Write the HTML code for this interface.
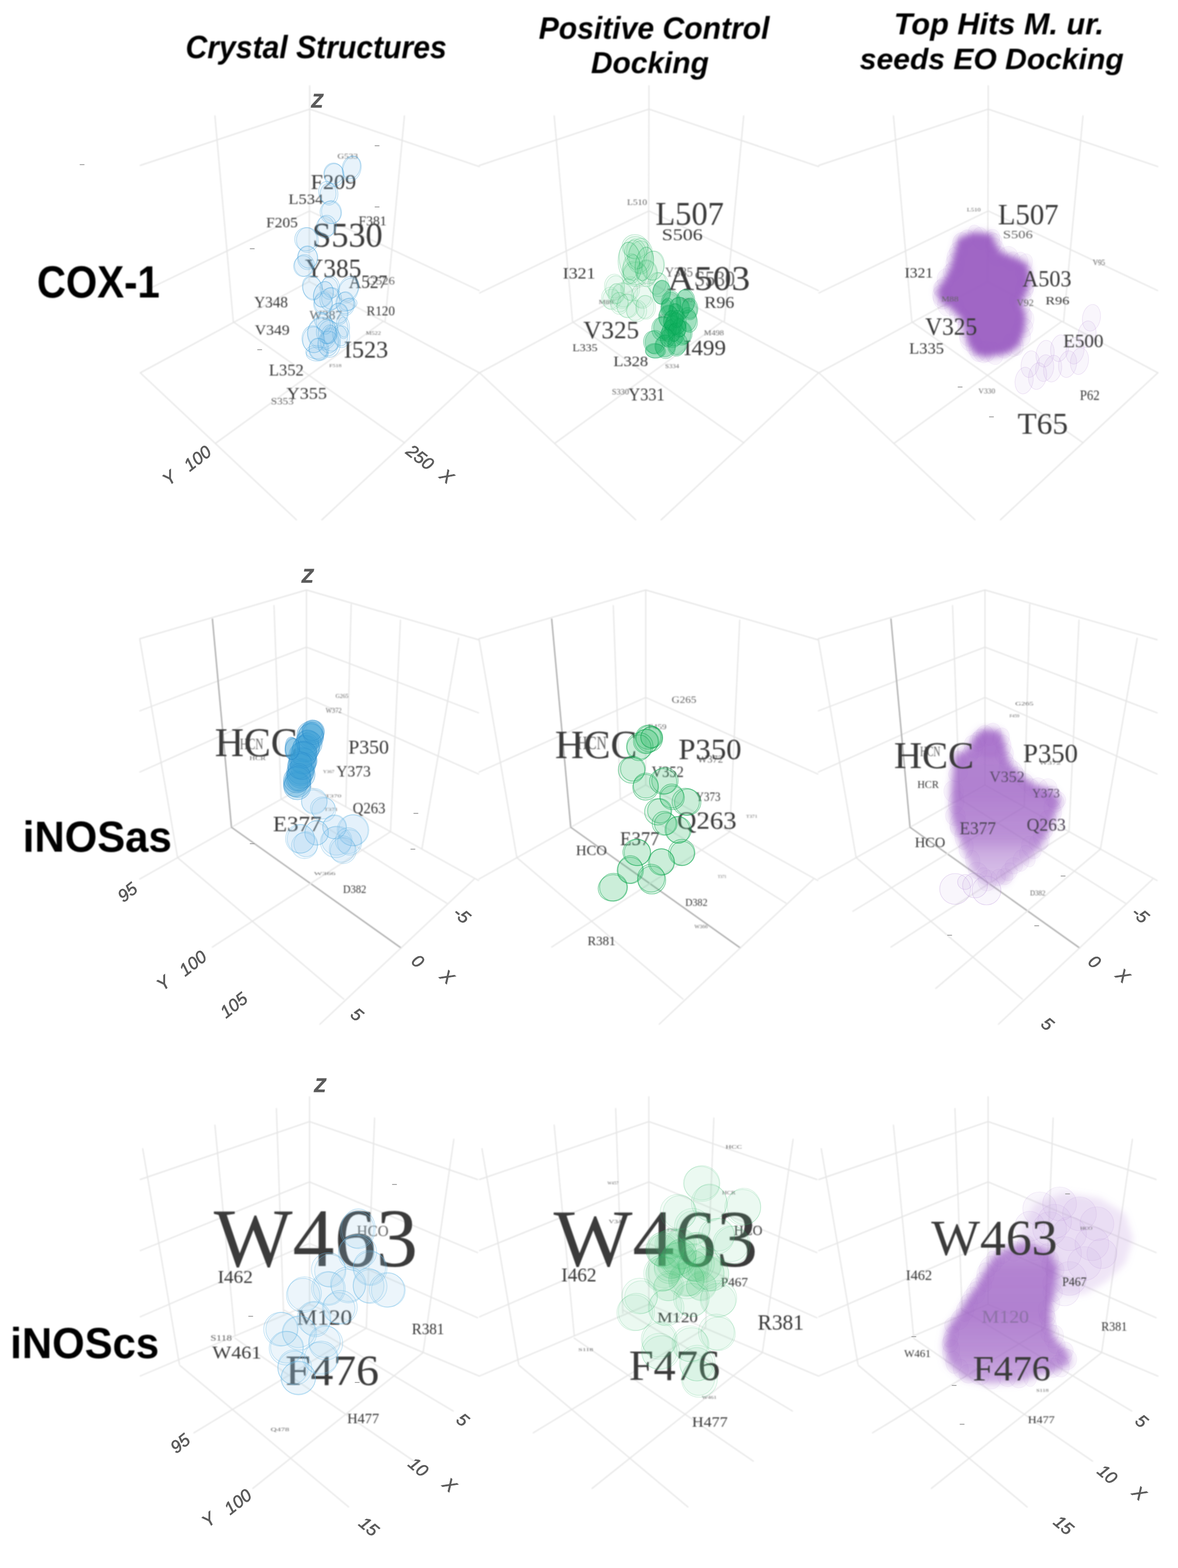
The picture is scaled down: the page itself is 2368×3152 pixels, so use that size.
<!DOCTYPE html><html><head><meta charset="utf-8"><title>Figure</title><style>html,body{margin:0;padding:0;background:#fff;width:2368px;height:3152px;overflow:hidden;}svg{display:block;}</style></head><body>
<svg width="2368" height="3152" viewBox="0 0 2368 3152">
<defs>
<filter id="soft" x="-20%" y="-20%" width="140%" height="140%"><feGaussianBlur stdDeviation="0.9"/></filter>
<filter id="pblur" x="-30%" y="-30%" width="160%" height="160%"><feGaussianBlur stdDeviation="7"/></filter>
</defs>
<rect width="2368" height="3152" fill="#ffffff"/>
<g stroke="#e6e6e6" stroke-width="2.4" stroke-linecap="round" fill="none" filter="url(#soft)">
<line x1="622.5" y1="172.5" x2="622.5" y2="219.4"/>
<line x1="622.5" y1="219.4" x2="282" y2="332.5"/>
<line x1="622.5" y1="219.4" x2="963.5" y2="334.8"/>
<line x1="622.5" y1="219.4" x2="621.5" y2="566"/>
<line x1="282" y1="589" x2="622.5" y2="424"/>
<line x1="622.5" y1="424" x2="963" y2="584"/>
<line x1="282" y1="749.4" x2="621.5" y2="566"/>
<line x1="621.5" y1="566" x2="963.5" y2="749.4"/>
<line x1="432" y1="233" x2="469" y2="647"/>
<line x1="813" y1="233" x2="774" y2="647"/>
<line x1="282" y1="749.4" x2="596" y2="1045"/>
<line x1="963.5" y1="749.4" x2="647" y2="1045"/>
<line x1="434.4" y1="890.3" x2="770.6" y2="645.9"/>
<line x1="813.3" y1="890.3" x2="469" y2="647"/>
<line x1="1304.5" y1="172.5" x2="1304.5" y2="219.4"/>
<line x1="1304.5" y1="219.4" x2="964" y2="332.5"/>
<line x1="1304.5" y1="219.4" x2="1645.5" y2="334.8"/>
<line x1="1304.5" y1="219.4" x2="1303.5" y2="566"/>
<line x1="964" y1="589" x2="1304.5" y2="424"/>
<line x1="1304.5" y1="424" x2="1645" y2="584"/>
<line x1="964" y1="749.4" x2="1303.5" y2="566"/>
<line x1="1303.5" y1="566" x2="1645.5" y2="749.4"/>
<line x1="1114" y1="233" x2="1151" y2="647"/>
<line x1="1495" y1="233" x2="1456" y2="647"/>
<line x1="964" y1="749.4" x2="1278" y2="1045"/>
<line x1="1645.5" y1="749.4" x2="1329" y2="1045"/>
<line x1="1116.4" y1="890.3" x2="1452.6" y2="645.9"/>
<line x1="1495.3" y1="890.3" x2="1151" y2="647"/>
<line x1="1986.5" y1="172.5" x2="1986.5" y2="219.4"/>
<line x1="1986.5" y1="219.4" x2="1646" y2="332.5"/>
<line x1="1986.5" y1="219.4" x2="2327.5" y2="334.8"/>
<line x1="1986.5" y1="219.4" x2="1985.5" y2="566"/>
<line x1="1646" y1="589" x2="1986.5" y2="424"/>
<line x1="1986.5" y1="424" x2="2327" y2="584"/>
<line x1="1646" y1="749.4" x2="1985.5" y2="566"/>
<line x1="1985.5" y1="566" x2="2327.5" y2="749.4"/>
<line x1="1796" y1="233" x2="1833" y2="647"/>
<line x1="2177" y1="233" x2="2138" y2="647"/>
<line x1="1646" y1="749.4" x2="1960" y2="1045"/>
<line x1="2327.5" y1="749.4" x2="2011" y2="1045"/>
<line x1="1798.4" y1="890.3" x2="2134.6" y2="645.9"/>
<line x1="2177.3" y1="890.3" x2="1833" y2="647"/>
<line x1="616" y1="1186" x2="281" y2="1284"/>
<line x1="616" y1="1186" x2="962" y2="1286"/>
<line x1="616" y1="1300.8" x2="281" y2="1429"/>
<line x1="616" y1="1402" x2="281" y2="1552"/>
<line x1="616" y1="1300.8" x2="962" y2="1433"/>
<line x1="616" y1="1402" x2="962" y2="1556"/>
<line x1="281" y1="1285" x2="357" y2="1724"/>
<line x1="427" y1="1244.5" x2="465.3" y2="1663" stroke="#aaaaaa" stroke-width="2.6"/>
<line x1="550.8" y1="1217.5" x2="565" y2="1606"/>
<line x1="616" y1="1186" x2="616" y2="1578"/>
<line x1="706" y1="1215.3" x2="695" y2="1622"/>
<line x1="805" y1="1246.8" x2="785" y2="1672"/>
<line x1="922" y1="1283" x2="848" y2="1707"/>
<line x1="616" y1="1578" x2="281" y2="1767"/>
<line x1="616" y1="1578" x2="962" y2="1770"/>
<line x1="565" y1="1606" x2="897.9" y2="1815.5"/>
<line x1="465.3" y1="1663" x2="806.3" y2="1905.6" stroke="#aaaaaa" stroke-width="2.6"/>
<line x1="357" y1="1724" x2="690.9" y2="2008.4"/>
<line x1="785" y1="1672" x2="427" y2="1903.8"/>
<line x1="952.8" y1="1767.6" x2="643" y2="2059"/>
<line x1="1298" y1="1186" x2="963" y2="1284"/>
<line x1="1298" y1="1186" x2="1644" y2="1286"/>
<line x1="1298" y1="1402" x2="963" y2="1552"/>
<line x1="1298" y1="1402" x2="1644" y2="1556"/>
<line x1="963" y1="1285" x2="1039" y2="1724"/>
<line x1="1109" y1="1244.5" x2="1147.3" y2="1663" stroke="#aaaaaa" stroke-width="2.6"/>
<line x1="1232.8" y1="1217.5" x2="1247" y2="1606"/>
<line x1="1298" y1="1186" x2="1298" y2="1578"/>
<line x1="1487" y1="1246.8" x2="1467" y2="1672"/>
<line x1="1298" y1="1578" x2="963" y2="1767"/>
<line x1="1298" y1="1578" x2="1644" y2="1770"/>
<line x1="1247" y1="1606" x2="1579.9" y2="1815.5"/>
<line x1="1147.3" y1="1663" x2="1488.3" y2="1905.6" stroke="#aaaaaa" stroke-width="2.6"/>
<line x1="1039" y1="1724" x2="1372.9" y2="2008.4"/>
<line x1="1467" y1="1672" x2="1109" y2="1903.8"/>
<line x1="1634.8" y1="1767.6" x2="1325" y2="2059"/>
<line x1="1980" y1="1186" x2="1645" y2="1284"/>
<line x1="1980" y1="1186" x2="2326" y2="1286"/>
<line x1="1980" y1="1300.8" x2="1645" y2="1429"/>
<line x1="1980" y1="1402" x2="1645" y2="1552"/>
<line x1="1980" y1="1300.8" x2="2326" y2="1433"/>
<line x1="1980" y1="1402" x2="2326" y2="1556"/>
<line x1="1645" y1="1285" x2="1721" y2="1724"/>
<line x1="1791" y1="1244.5" x2="1829.3" y2="1663" stroke="#aaaaaa" stroke-width="2.6"/>
<line x1="1914.8" y1="1217.5" x2="1929" y2="1606"/>
<line x1="1980" y1="1186" x2="1980" y2="1578"/>
<line x1="2070" y1="1215.3" x2="2059" y2="1622"/>
<line x1="2169" y1="1246.8" x2="2149" y2="1672"/>
<line x1="2286" y1="1283" x2="2212" y2="1707"/>
<line x1="1980" y1="1578" x2="1645" y2="1767"/>
<line x1="1980" y1="1578" x2="2326" y2="1770"/>
<line x1="1929" y1="1606" x2="2261.9" y2="1815.5"/>
<line x1="1829.3" y1="1663" x2="2170.3" y2="1905.6" stroke="#aaaaaa" stroke-width="2.6"/>
<line x1="1721" y1="1724" x2="2054.9" y2="2008.4"/>
<line x1="2059" y1="1622" x2="1714.5" y2="1831.8"/>
<line x1="2149" y1="1672" x2="1791" y2="1903.8"/>
<line x1="2212" y1="1707" x2="1881" y2="1987"/>
<line x1="2316.8" y1="1767.6" x2="2007" y2="2059"/>
<line x1="622.2" y1="2204.6" x2="622.2" y2="2254.6"/>
<line x1="622.2" y1="2254.6" x2="282" y2="2371"/>
<line x1="622.2" y1="2254.6" x2="960" y2="2371"/>
<line x1="622.2" y1="2375.8" x2="282" y2="2514"/>
<line x1="622.2" y1="2375.8" x2="960" y2="2518"/>
<line x1="622.2" y1="2499.5" x2="282" y2="2647"/>
<line x1="622.2" y1="2499.5" x2="960" y2="2649"/>
<line x1="622.2" y1="2622" x2="282" y2="2766"/>
<line x1="622.2" y1="2622" x2="963.7" y2="2766.4"/>
<line x1="286.9" y1="2309.3" x2="360.6" y2="2742"/>
<line x1="432" y1="2261.7" x2="472.4" y2="2685"/>
<line x1="555.6" y1="2228.4" x2="570" y2="2640"/>
<line x1="622.2" y1="2254.6" x2="622.2" y2="2622"/>
<line x1="753" y1="2247.4" x2="736.3" y2="2670"/>
<line x1="912.3" y1="2290.2" x2="850.5" y2="2719"/>
<line x1="361.4" y1="2744.5" x2="700.9" y2="3029.3"/>
<line x1="472.4" y1="2690" x2="832.3" y2="2937.3"/>
<line x1="570" y1="2633" x2="911" y2="2836.5"/>
<line x1="389.9" y1="2880.3" x2="736.3" y2="2670"/>
<line x1="508.2" y1="2992" x2="850.5" y2="2719"/>
<line x1="1304.2" y1="2204.6" x2="1304.2" y2="2254.6"/>
<line x1="1304.2" y1="2254.6" x2="964" y2="2371"/>
<line x1="1304.2" y1="2254.6" x2="1642" y2="2371"/>
<line x1="1304.2" y1="2375.8" x2="964" y2="2514"/>
<line x1="1304.2" y1="2375.8" x2="1642" y2="2518"/>
<line x1="1304.2" y1="2499.5" x2="964" y2="2647"/>
<line x1="1304.2" y1="2499.5" x2="1642" y2="2649"/>
<line x1="1304.2" y1="2622" x2="964" y2="2766"/>
<line x1="1304.2" y1="2622" x2="1645.7" y2="2766.4"/>
<line x1="968.9" y1="2309.3" x2="1042.6" y2="2742"/>
<line x1="1114" y1="2261.7" x2="1154.4" y2="2685"/>
<line x1="1237.6" y1="2228.4" x2="1252" y2="2640"/>
<line x1="1304.2" y1="2254.6" x2="1304.2" y2="2622"/>
<line x1="1435" y1="2247.4" x2="1418.3" y2="2670"/>
<line x1="1594.3" y1="2290.2" x2="1532.5" y2="2719"/>
<line x1="1043.4" y1="2744.5" x2="1382.9" y2="3029.3"/>
<line x1="1154.4" y1="2690" x2="1514.3" y2="2937.3"/>
<line x1="1252" y1="2633" x2="1593" y2="2836.5"/>
<line x1="1071.9" y1="2880.3" x2="1418.3" y2="2670"/>
<line x1="1190.2" y1="2992" x2="1532.5" y2="2719"/>
<line x1="1986.2" y1="2204.6" x2="1986.2" y2="2254.6"/>
<line x1="1986.2" y1="2254.6" x2="1646" y2="2371"/>
<line x1="1986.2" y1="2254.6" x2="2324" y2="2371"/>
<line x1="1986.2" y1="2375.8" x2="1646" y2="2514"/>
<line x1="1986.2" y1="2375.8" x2="2324" y2="2518"/>
<line x1="1986.2" y1="2499.5" x2="1646" y2="2647"/>
<line x1="1986.2" y1="2499.5" x2="2324" y2="2649"/>
<line x1="1986.2" y1="2622" x2="1646" y2="2766"/>
<line x1="1986.2" y1="2622" x2="2327.7" y2="2766.4"/>
<line x1="1650.9" y1="2309.3" x2="1724.6" y2="2742"/>
<line x1="1796" y1="2261.7" x2="1836.4" y2="2685"/>
<line x1="1919.6" y1="2228.4" x2="1934" y2="2640"/>
<line x1="1986.2" y1="2254.6" x2="1986.2" y2="2622"/>
<line x1="2117" y1="2247.4" x2="2100.3" y2="2670"/>
<line x1="2276.3" y1="2290.2" x2="2214.5" y2="2719"/>
<line x1="1725.4" y1="2744.5" x2="2064.9" y2="3029.3"/>
<line x1="1836.4" y1="2690" x2="2196.3" y2="2937.3"/>
<line x1="1934" y1="2633" x2="2275" y2="2836.5"/>
<line x1="1753.9" y1="2880.3" x2="2100.3" y2="2670"/>
<line x1="1872.2" y1="2992" x2="2214.5" y2="2719"/>
</g>
<text x="637.5" y="202.6" font-size="38" text-anchor="middle" dominant-baseline="central" style="font-family:'Liberation Sans', Arial, sans-serif;font-style:italic;font-weight:bold;" fill="#5a5a5a" stroke="#5a5a5a" stroke-width="0.9">Z</text>
<text x="340.3" y="960.4" font-size="35" text-anchor="middle" dominant-baseline="central" style="font-family:'Liberation Sans', Arial, sans-serif;font-style:italic;" fill="#5a5a5a" stroke="#5a5a5a" stroke-width="0.9" transform="rotate(-40 340.3 960.4)">Y</text>
<text x="396.7" y="921" font-size="35" text-anchor="middle" dominant-baseline="central" style="font-family:'Liberation Sans', Arial, sans-serif;font-style:italic;" fill="#5a5a5a" stroke="#5a5a5a" stroke-width="0.9" transform="rotate(-38 396.7 921)">100</text>
<text x="844.8" y="918.9" font-size="35" text-anchor="middle" dominant-baseline="central" style="font-family:'Liberation Sans', Arial, sans-serif;font-style:italic;" fill="#5a5a5a" stroke="#5a5a5a" stroke-width="0.9" transform="rotate(38 844.8 918.9)">250</text>
<text x="898.5" y="957.2" font-size="35" text-anchor="middle" dominant-baseline="central" style="font-family:'Liberation Sans', Arial, sans-serif;font-style:italic;" fill="#5a5a5a" stroke="#5a5a5a" stroke-width="0.9" transform="rotate(38 898.5 957.2)">X</text>
<text x="618.3" y="1158.4" font-size="38" text-anchor="middle" dominant-baseline="central" style="font-family:'Liberation Sans', Arial, sans-serif;font-style:italic;font-weight:bold;" fill="#5a5a5a" stroke="#5a5a5a" stroke-width="0.9">Z</text>
<text x="255.9" y="1793.1" font-size="35" text-anchor="middle" dominant-baseline="central" style="font-family:'Liberation Sans', Arial, sans-serif;font-style:italic;" fill="#5a5a5a" stroke="#5a5a5a" stroke-width="0.9" transform="rotate(-38 255.9 1793.1)">95</text>
<text x="328.4" y="1976" font-size="35" text-anchor="middle" dominant-baseline="central" style="font-family:'Liberation Sans', Arial, sans-serif;font-style:italic;" fill="#5a5a5a" stroke="#5a5a5a" stroke-width="0.9" transform="rotate(-40 328.4 1976)">Y</text>
<text x="387.4" y="1936" font-size="35" text-anchor="middle" dominant-baseline="central" style="font-family:'Liberation Sans', Arial, sans-serif;font-style:italic;" fill="#5a5a5a" stroke="#5a5a5a" stroke-width="0.9" transform="rotate(-38 387.4 1936)">100</text>
<text x="469.6" y="2020.2" font-size="35" text-anchor="middle" dominant-baseline="central" style="font-family:'Liberation Sans', Arial, sans-serif;font-style:italic;" fill="#5a5a5a" stroke="#5a5a5a" stroke-width="0.9" transform="rotate(-38 469.6 2020.2)">105</text>
<text x="928.7" y="1839" font-size="35" text-anchor="middle" dominant-baseline="central" style="font-family:'Liberation Sans', Arial, sans-serif;font-style:italic;" fill="#5a5a5a" stroke="#5a5a5a" stroke-width="0.9" transform="rotate(40 928.7 1839)">-5</text>
<text x="840.2" y="1931.7" font-size="35" text-anchor="middle" dominant-baseline="central" style="font-family:'Liberation Sans', Arial, sans-serif;font-style:italic;" fill="#5a5a5a" stroke="#5a5a5a" stroke-width="0.9" transform="rotate(40 840.2 1931.7)">0</text>
<text x="899.2" y="1963.3" font-size="35" text-anchor="middle" dominant-baseline="central" style="font-family:'Liberation Sans', Arial, sans-serif;font-style:italic;" fill="#5a5a5a" stroke="#5a5a5a" stroke-width="0.9" transform="rotate(40 899.2 1963.3)">X</text>
<text x="718" y="2039" font-size="35" text-anchor="middle" dominant-baseline="central" style="font-family:'Liberation Sans', Arial, sans-serif;font-style:italic;" fill="#5a5a5a" stroke="#5a5a5a" stroke-width="0.9" transform="rotate(40 718 2039)">5</text>
<text x="2292.8" y="1838.5" font-size="35" text-anchor="middle" dominant-baseline="central" style="font-family:'Liberation Sans', Arial, sans-serif;font-style:italic;" fill="#5a5a5a" stroke="#5a5a5a" stroke-width="0.9" transform="rotate(40 2292.8 1838.5)">-5</text>
<text x="2200.5" y="1933" font-size="35" text-anchor="middle" dominant-baseline="central" style="font-family:'Liberation Sans', Arial, sans-serif;font-style:italic;" fill="#5a5a5a" stroke="#5a5a5a" stroke-width="0.9" transform="rotate(40 2200.5 1933)">0</text>
<text x="2257.5" y="1961" font-size="35" text-anchor="middle" dominant-baseline="central" style="font-family:'Liberation Sans', Arial, sans-serif;font-style:italic;" fill="#5a5a5a" stroke="#5a5a5a" stroke-width="0.9" transform="rotate(40 2257.5 1961)">X</text>
<text x="2106" y="2058" font-size="35" text-anchor="middle" dominant-baseline="central" style="font-family:'Liberation Sans', Arial, sans-serif;font-style:italic;" fill="#5a5a5a" stroke="#5a5a5a" stroke-width="0.9" transform="rotate(40 2106 2058)">5</text>
<text x="643.4" y="2181.8" font-size="38" text-anchor="middle" dominant-baseline="central" style="font-family:'Liberation Sans', Arial, sans-serif;font-style:italic;font-weight:bold;" fill="#5a5a5a" stroke="#5a5a5a" stroke-width="0.9">Z</text>
<text x="361.9" y="2901.2" font-size="35" text-anchor="middle" dominant-baseline="central" style="font-family:'Liberation Sans', Arial, sans-serif;font-style:italic;" fill="#5a5a5a" stroke="#5a5a5a" stroke-width="0.9" transform="rotate(-38 361.9 2901.2)">95</text>
<text x="419.2" y="3054.6" font-size="35" text-anchor="middle" dominant-baseline="central" style="font-family:'Liberation Sans', Arial, sans-serif;font-style:italic;" fill="#5a5a5a" stroke="#5a5a5a" stroke-width="0.9" transform="rotate(-40 419.2 3054.6)">Y</text>
<text x="477.9" y="3018.5" font-size="35" text-anchor="middle" dominant-baseline="central" style="font-family:'Liberation Sans', Arial, sans-serif;font-style:italic;" fill="#5a5a5a" stroke="#5a5a5a" stroke-width="0.9" transform="rotate(-38 477.9 3018.5)">100</text>
<text x="741.9" y="3068.1" font-size="35" text-anchor="middle" dominant-baseline="central" style="font-family:'Liberation Sans', Arial, sans-serif;font-style:italic;" fill="#5a5a5a" stroke="#5a5a5a" stroke-width="0.9" transform="rotate(40 741.9 3068.1)">15</text>
<text x="841.2" y="2948.6" font-size="35" text-anchor="middle" dominant-baseline="central" style="font-family:'Liberation Sans', Arial, sans-serif;font-style:italic;" fill="#5a5a5a" stroke="#5a5a5a" stroke-width="0.9" transform="rotate(40 841.2 2948.6)">10</text>
<text x="904.3" y="2984.7" font-size="35" text-anchor="middle" dominant-baseline="central" style="font-family:'Liberation Sans', Arial, sans-serif;font-style:italic;" fill="#5a5a5a" stroke="#5a5a5a" stroke-width="0.9" transform="rotate(40 904.3 2984.7)">X</text>
<text x="930.5" y="2853.8" font-size="35" text-anchor="middle" dominant-baseline="central" style="font-family:'Liberation Sans', Arial, sans-serif;font-style:italic;" fill="#5a5a5a" stroke="#5a5a5a" stroke-width="0.9" transform="rotate(40 930.5 2853.8)">5</text>
<text x="2295.3" y="2856.2" font-size="35" text-anchor="middle" dominant-baseline="central" style="font-family:'Liberation Sans', Arial, sans-serif;font-style:italic;" fill="#5a5a5a" stroke="#5a5a5a" stroke-width="0.9" transform="rotate(40 2295.3 2856.2)">5</text>
<text x="2226.4" y="2963.2" font-size="35" text-anchor="middle" dominant-baseline="central" style="font-family:'Liberation Sans', Arial, sans-serif;font-style:italic;" fill="#5a5a5a" stroke="#5a5a5a" stroke-width="0.9" transform="rotate(40 2226.4 2963.2)">10</text>
<text x="2290.6" y="3001.2" font-size="35" text-anchor="middle" dominant-baseline="central" style="font-family:'Liberation Sans', Arial, sans-serif;font-style:italic;" fill="#5a5a5a" stroke="#5a5a5a" stroke-width="0.9" transform="rotate(40 2290.6 3001.2)">X</text>
<text x="2138.4" y="3065.4" font-size="35" text-anchor="middle" dominant-baseline="central" style="font-family:'Liberation Sans', Arial, sans-serif;font-style:italic;" fill="#5a5a5a" stroke="#5a5a5a" stroke-width="0.9" transform="rotate(40 2138.4 3065.4)">15</text>
<g filter="url(#soft)">
<text x="678.2" y="319" font-size="15.1" textLength="41.5" lengthAdjust="spacingAndGlyphs" style="font-family:'Liberation Serif', 'Times New Roman', serif;" fill="#666">G533</text>
<text x="624.6" y="380.3" font-size="42.3" textLength="91.5" lengthAdjust="spacingAndGlyphs" style="font-family:'Liberation Serif', 'Times New Roman', serif;" fill="#3a3a3a">F209</text>
<text x="579.8" y="410.1" font-size="28.5" textLength="70.1" lengthAdjust="spacingAndGlyphs" style="font-family:'Liberation Serif', 'Times New Roman', serif;" fill="#3a3a3a">L534</text>
<text x="535.1" y="457" font-size="30.2" textLength="63.6" lengthAdjust="spacingAndGlyphs" style="font-family:'Liberation Serif', 'Times New Roman', serif;" fill="#3a3a3a">F205</text>
<text x="720.8" y="452.5" font-size="27.2" textLength="56.5" lengthAdjust="spacingAndGlyphs" style="font-family:'Liberation Serif', 'Times New Roman', serif;" fill="#3a3a3a">F381</text>
<text x="627.6" y="495.8" font-size="69.5" textLength="141.7" lengthAdjust="spacingAndGlyphs" style="font-family:'Liberation Serif', 'Times New Roman', serif;" fill="#3a3a3a">S530</text>
<text x="613.1" y="556.6" font-size="52.7" textLength="113.3" lengthAdjust="spacingAndGlyphs" style="font-family:'Liberation Serif', 'Times New Roman', serif;" fill="#3a3a3a">Y385</text>
<text x="737" y="572" font-size="22.7" textLength="56.8" lengthAdjust="spacingAndGlyphs" style="font-family:'Liberation Serif', 'Times New Roman', serif;" fill="#666">G526</text>
<text x="701.2" y="579.4" font-size="38.4" textLength="77.1" lengthAdjust="spacingAndGlyphs" style="font-family:'Liberation Serif', 'Times New Roman', serif;" fill="#3a3a3a">A527</text>
<text x="511.1" y="618" font-size="31" textLength="67.7" lengthAdjust="spacingAndGlyphs" style="font-family:'Liberation Serif', 'Times New Roman', serif;" fill="#3a3a3a">Y348</text>
<text x="736.8" y="633.6" font-size="27.3" textLength="57.2" lengthAdjust="spacingAndGlyphs" style="font-family:'Liberation Serif', 'Times New Roman', serif;" fill="#3a3a3a">R120</text>
<text x="622" y="642" font-size="24.2" textLength="65.8" lengthAdjust="spacingAndGlyphs" style="font-family:'Liberation Serif', 'Times New Roman', serif;" fill="#666">W387</text>
<text x="512.2" y="673.3" font-size="29.2" textLength="70" lengthAdjust="spacingAndGlyphs" style="font-family:'Liberation Serif', 'Times New Roman', serif;" fill="#3a3a3a">V349</text>
<text x="735.6" y="673" font-size="10.6" textLength="30.1" lengthAdjust="spacingAndGlyphs" style="font-family:'Liberation Serif', 'Times New Roman', serif;" fill="#666">M522</text>
<text x="691.2" y="719" font-size="49.1" textLength="89.2" lengthAdjust="spacingAndGlyphs" style="font-family:'Liberation Serif', 'Times New Roman', serif;" fill="#3a3a3a">I523</text>
<text x="540.5" y="755" font-size="34.7" textLength="70.1" lengthAdjust="spacingAndGlyphs" style="font-family:'Liberation Serif', 'Times New Roman', serif;" fill="#3a3a3a">L352</text>
<text x="661.7" y="738" font-size="7.6" textLength="24.8" lengthAdjust="spacingAndGlyphs" style="font-family:'Liberation Serif', 'Times New Roman', serif;" fill="#666">F518</text>
<text x="576" y="802" font-size="34.7" textLength="81.2" lengthAdjust="spacingAndGlyphs" style="font-family:'Liberation Serif', 'Times New Roman', serif;" fill="#3a3a3a">Y355</text>
<text x="544.5" y="813" font-size="18.1" textLength="46" lengthAdjust="spacingAndGlyphs" style="font-family:'Liberation Serif', 'Times New Roman', serif;" fill="#666">S353</text>
<text x="1260.5" y="412" font-size="16.6" textLength="40.3" lengthAdjust="spacingAndGlyphs" style="font-family:'Liberation Serif', 'Times New Roman', serif;" fill="#666">L510</text>
<text x="1317.4" y="452.4" font-size="66.8" textLength="137.9" lengthAdjust="spacingAndGlyphs" style="font-family:'Liberation Serif', 'Times New Roman', serif;" fill="#3a3a3a">L507</text>
<text x="1330.2" y="482.7" font-size="32.8" textLength="82.4" lengthAdjust="spacingAndGlyphs" style="font-family:'Liberation Serif', 'Times New Roman', serif;" fill="#3a3a3a">S506</text>
<text x="1131.2" y="559.9" font-size="30.8" textLength="65.8" lengthAdjust="spacingAndGlyphs" style="font-family:'Liberation Serif', 'Times New Roman', serif;" fill="#3a3a3a">I321</text>
<text x="1336.7" y="556" font-size="27.2" textLength="56.3" lengthAdjust="spacingAndGlyphs" style="font-family:'Liberation Serif', 'Times New Roman', serif;" fill="#666">Y385</text>
<text x="1395.3" y="575" font-size="43.8" textLength="82.2" lengthAdjust="spacingAndGlyphs" style="font-family:'Liberation Serif', 'Times New Roman', serif;" fill="#666">S530</text>
<text x="1341.6" y="582.9" font-size="69.6" textLength="166.2" lengthAdjust="spacingAndGlyphs" style="font-family:'Liberation Serif', 'Times New Roman', serif;" fill="#3a3a3a">A503</text>
<text x="1415.8" y="619.4" font-size="34.7" textLength="60.3" lengthAdjust="spacingAndGlyphs" style="font-family:'Liberation Serif', 'Times New Roman', serif;" fill="#3a3a3a">R96</text>
<text x="1370.7" y="607" font-size="12.1" textLength="22.5" lengthAdjust="spacingAndGlyphs" style="font-family:'Liberation Serif', 'Times New Roman', serif;" fill="#666">V92</text>
<text x="1203.5" y="611" font-size="12.1" textLength="29.8" lengthAdjust="spacingAndGlyphs" style="font-family:'Liberation Serif', 'Times New Roman', serif;" fill="#666">M89</text>
<text x="1324.8" y="640" font-size="12.7" textLength="19.1" lengthAdjust="spacingAndGlyphs" style="font-family:'Liberation Serif', 'Times New Roman', serif;" fill="#666">W387</text>
<text x="1172.5" y="680.4" font-size="51.2" textLength="112.2" lengthAdjust="spacingAndGlyphs" style="font-family:'Liberation Serif', 'Times New Roman', serif;" fill="#3a3a3a">V325</text>
<text x="1415" y="673.6" font-size="14.5" textLength="40.3" lengthAdjust="spacingAndGlyphs" style="font-family:'Liberation Serif', 'Times New Roman', serif;" fill="#666">M498</text>
<text x="1150.7" y="706" font-size="20.4" textLength="50.4" lengthAdjust="spacingAndGlyphs" style="font-family:'Liberation Serif', 'Times New Roman', serif;" fill="#3a3a3a">L335</text>
<text x="1374.5" y="714.2" font-size="45" textLength="84.8" lengthAdjust="spacingAndGlyphs" style="font-family:'Liberation Serif', 'Times New Roman', serif;" fill="#3a3a3a">I499</text>
<text x="1233" y="735.9" font-size="28.5" textLength="69.9" lengthAdjust="spacingAndGlyphs" style="font-family:'Liberation Serif', 'Times New Roman', serif;" fill="#3a3a3a">L328</text>
<text x="1337.1" y="740" font-size="12.1" textLength="28.1" lengthAdjust="spacingAndGlyphs" style="font-family:'Liberation Serif', 'Times New Roman', serif;" fill="#666">S334</text>
<text x="1229.9" y="793" font-size="16.6" textLength="34.5" lengthAdjust="spacingAndGlyphs" style="font-family:'Liberation Serif', 'Times New Roman', serif;" fill="#666">S330</text>
<text x="1263.3" y="804.8" font-size="35" textLength="72.8" lengthAdjust="spacingAndGlyphs" style="font-family:'Liberation Serif', 'Times New Roman', serif;" fill="#3a3a3a">Y331</text>
<text x="674.5" y="1403" font-size="12.1" textLength="25.9" lengthAdjust="spacingAndGlyphs" style="font-family:'Liberation Serif', 'Times New Roman', serif;" fill="#666">G265</text>
<text x="654.8" y="1433" font-size="13.6" textLength="31.9" lengthAdjust="spacingAndGlyphs" style="font-family:'Liberation Serif', 'Times New Roman', serif;" fill="#666">W372</text>
<text x="482.3" y="1506.4" font-size="30.8" textLength="47.2" lengthAdjust="spacingAndGlyphs" style="font-family:'Liberation Serif', 'Times New Roman', serif;" fill="#666">HCN</text>
<text x="431.8" y="1519.9" font-size="81.7" textLength="166.6" lengthAdjust="spacingAndGlyphs" style="font-family:'Liberation Serif', 'Times New Roman', serif;" fill="#3a3a3a">HCC</text>
<text x="501.3" y="1528" font-size="12.1" textLength="33" lengthAdjust="spacingAndGlyphs" style="font-family:'Liberation Serif', 'Times New Roman', serif;" fill="#666">HCR</text>
<text x="700.2" y="1515.4" font-size="40.8" textLength="81.6" lengthAdjust="spacingAndGlyphs" style="font-family:'Liberation Serif', 'Times New Roman', serif;" fill="#3a3a3a">P350</text>
<text x="649.3" y="1554" font-size="9.1" textLength="23" lengthAdjust="spacingAndGlyphs" style="font-family:'Liberation Serif', 'Times New Roman', serif;" fill="#666">Y367</text>
<text x="676" y="1560.6" font-size="30.7" textLength="69.3" lengthAdjust="spacingAndGlyphs" style="font-family:'Liberation Serif', 'Times New Roman', serif;" fill="#3a3a3a">Y373</text>
<text x="653.7" y="1603" font-size="9.1" textLength="32.4" lengthAdjust="spacingAndGlyphs" style="font-family:'Liberation Serif', 'Times New Roman', serif;" fill="#666">T370</text>
<text x="651.4" y="1630" font-size="9.1" textLength="28.1" lengthAdjust="spacingAndGlyphs" style="font-family:'Liberation Serif', 'Times New Roman', serif;" fill="#666">T371</text>
<text x="709.1" y="1635" font-size="30.7" textLength="65.6" lengthAdjust="spacingAndGlyphs" style="font-family:'Liberation Serif', 'Times New Roman', serif;" fill="#3a3a3a">Q263</text>
<text x="548.8" y="1671.1" font-size="44.3" textLength="97.5" lengthAdjust="spacingAndGlyphs" style="font-family:'Liberation Serif', 'Times New Roman', serif;" fill="#3a3a3a">E377</text>
<text x="631" y="1759" font-size="7.6" textLength="43.5" lengthAdjust="spacingAndGlyphs" style="font-family:'Liberation Serif', 'Times New Roman', serif;" fill="#666">W366</text>
<text x="689.4" y="1795.2" font-size="23.9" textLength="46.9" lengthAdjust="spacingAndGlyphs" style="font-family:'Liberation Serif', 'Times New Roman', serif;" fill="#3a3a3a">D382</text>
<text x="1350.1" y="1412.9" font-size="18" textLength="49.8" lengthAdjust="spacingAndGlyphs" style="font-family:'Liberation Serif', 'Times New Roman', serif;" fill="#666">G265</text>
<text x="1302.5" y="1466" font-size="13.6" textLength="37.3" lengthAdjust="spacingAndGlyphs" style="font-family:'Liberation Serif', 'Times New Roman', serif;" fill="#666">F459</text>
<text x="1160.2" y="1506.2" font-size="38.1" textLength="59.3" lengthAdjust="spacingAndGlyphs" style="font-family:'Liberation Serif', 'Times New Roman', serif;" fill="#666">HCN</text>
<text x="1115.4" y="1523.6" font-size="80.1" textLength="165.7" lengthAdjust="spacingAndGlyphs" style="font-family:'Liberation Serif', 'Times New Roman', serif;" fill="#3a3a3a">HCC</text>
<text x="1401.7" y="1533.2" font-size="21.5" textLength="51.8" lengthAdjust="spacingAndGlyphs" style="font-family:'Liberation Serif', 'Times New Roman', serif;" fill="#666">W372</text>
<text x="1363.8" y="1526" font-size="58.2" textLength="126.9" lengthAdjust="spacingAndGlyphs" style="font-family:'Liberation Serif', 'Times New Roman', serif;" fill="#3a3a3a">P350</text>
<text x="1310" y="1562" font-size="32.6" textLength="64.4" lengthAdjust="spacingAndGlyphs" style="font-family:'Liberation Serif', 'Times New Roman', serif;" fill="#3a3a3a">V352</text>
<text x="1399.1" y="1610.2" font-size="25.4" textLength="49.2" lengthAdjust="spacingAndGlyphs" style="font-family:'Liberation Serif', 'Times New Roman', serif;" fill="#3a3a3a">Y373</text>
<text x="1361" y="1665.6" font-size="50.9" textLength="119.8" lengthAdjust="spacingAndGlyphs" style="font-family:'Liberation Serif', 'Times New Roman', serif;" fill="#3a3a3a">Q263</text>
<text x="1246.6" y="1699.3" font-size="40" textLength="79.2" lengthAdjust="spacingAndGlyphs" style="font-family:'Liberation Serif', 'Times New Roman', serif;" fill="#3a3a3a">E377</text>
<text x="1157.8" y="1718.5" font-size="29" textLength="62.3" lengthAdjust="spacingAndGlyphs" style="font-family:'Liberation Serif', 'Times New Roman', serif;" fill="#3a3a3a">HCO</text>
<text x="1499.8" y="1644" font-size="7.6" textLength="22.8" lengthAdjust="spacingAndGlyphs" style="font-family:'Liberation Serif', 'Times New Roman', serif;" fill="#666">T371</text>
<text x="1442.8" y="1765" font-size="9.1" textLength="17.4" lengthAdjust="spacingAndGlyphs" style="font-family:'Liberation Serif', 'Times New Roman', serif;" fill="#666">T371</text>
<text x="1377.4" y="1821.4" font-size="21.8" textLength="44.9" lengthAdjust="spacingAndGlyphs" style="font-family:'Liberation Serif', 'Times New Roman', serif;" fill="#3a3a3a">D382</text>
<text x="1396" y="1866" font-size="10.6" textLength="26.7" lengthAdjust="spacingAndGlyphs" style="font-family:'Liberation Serif', 'Times New Roman', serif;" fill="#666">W366</text>
<text x="1180.9" y="1899.6" font-size="25.4" textLength="56.5" lengthAdjust="spacingAndGlyphs" style="font-family:'Liberation Serif', 'Times New Roman', serif;" fill="#3a3a3a">R381</text>
<text x="429.8" y="2545" font-size="167.7" textLength="410.2" lengthAdjust="spacingAndGlyphs" style="font-family:'Liberation Serif', 'Times New Roman', serif;" fill="#3a3a3a">W463</text>
<text x="717.1" y="2485" font-size="31.7" textLength="64.1" lengthAdjust="spacingAndGlyphs" style="font-family:'Liberation Serif', 'Times New Roman', serif;" fill="#666">HCO</text>
<text x="437.4" y="2579" font-size="36.4" textLength="70.9" lengthAdjust="spacingAndGlyphs" style="font-family:'Liberation Serif', 'Times New Roman', serif;" fill="#3a3a3a">I462</text>
<text x="596.4" y="2663.2" font-size="43.7" textLength="111.4" lengthAdjust="spacingAndGlyphs" style="font-family:'Liberation Serif', 'Times New Roman', serif;" fill="#3a3a3a">M120</text>
<text x="827.8" y="2682.4" font-size="32.6" textLength="65.3" lengthAdjust="spacingAndGlyphs" style="font-family:'Liberation Serif', 'Times New Roman', serif;" fill="#3a3a3a">R381</text>
<text x="423" y="2694.5" font-size="17.4" textLength="43.1" lengthAdjust="spacingAndGlyphs" style="font-family:'Liberation Serif', 'Times New Roman', serif;" fill="#666">S118</text>
<text x="426.8" y="2730.6" font-size="36.4" textLength="98.7" lengthAdjust="spacingAndGlyphs" style="font-family:'Liberation Serif', 'Times New Roman', serif;" fill="#3a3a3a">W461</text>
<text x="573.4" y="2783.5" font-size="87.2" textLength="188.3" lengthAdjust="spacingAndGlyphs" style="font-family:'Liberation Serif', 'Times New Roman', serif;" fill="#3a3a3a">F476</text>
<text x="697.9" y="2860.5" font-size="29" textLength="64.3" lengthAdjust="spacingAndGlyphs" style="font-family:'Liberation Serif', 'Times New Roman', serif;" fill="#3a3a3a">H477</text>
<text x="544" y="2877.4" font-size="11.2" textLength="37.4" lengthAdjust="spacingAndGlyphs" style="font-family:'Liberation Serif', 'Times New Roman', serif;" fill="#666">Q478</text>
<text x="1458.5" y="2309.3" font-size="11" textLength="32.9" lengthAdjust="spacingAndGlyphs" style="font-family:'Liberation Serif', 'Times New Roman', serif;" fill="#666">HCC</text>
<text x="1221" y="2381" font-size="7.6" textLength="22.3" lengthAdjust="spacingAndGlyphs" style="font-family:'Liberation Serif', 'Times New Roman', serif;" fill="#666">W457</text>
<text x="1451.6" y="2400.8" font-size="10.3" textLength="27" lengthAdjust="spacingAndGlyphs" style="font-family:'Liberation Serif', 'Times New Roman', serif;" fill="#666">HCR</text>
<text x="1223.4" y="2458.5" font-size="11.3" textLength="34" lengthAdjust="spacingAndGlyphs" style="font-family:'Liberation Serif', 'Times New Roman', serif;" fill="#666">V346</text>
<text x="1341.2" y="2475" font-size="7.6" textLength="19.9" lengthAdjust="spacingAndGlyphs" style="font-family:'Liberation Serif', 'Times New Roman', serif;" fill="#666">F363</text>
<text x="1475.2" y="2482.6" font-size="29.2" textLength="57.4" lengthAdjust="spacingAndGlyphs" style="font-family:'Liberation Serif', 'Times New Roman', serif;" fill="#3a3a3a">HCO</text>
<text x="1112.7" y="2545.1" font-size="163.4" textLength="410.9" lengthAdjust="spacingAndGlyphs" style="font-family:'Liberation Serif', 'Times New Roman', serif;" fill="#3a3a3a">W463</text>
<text x="1128.3" y="2576.4" font-size="39.9" textLength="70.9" lengthAdjust="spacingAndGlyphs" style="font-family:'Liberation Serif', 'Times New Roman', serif;" fill="#3a3a3a">I462</text>
<text x="1448.9" y="2586" font-size="25.4" textLength="54.5" lengthAdjust="spacingAndGlyphs" style="font-family:'Liberation Serif', 'Times New Roman', serif;" fill="#3a3a3a">P467</text>
<text x="1321.2" y="2658.2" font-size="29" textLength="81.7" lengthAdjust="spacingAndGlyphs" style="font-family:'Liberation Serif', 'Times New Roman', serif;" fill="#3a3a3a">M120</text>
<text x="1523.1" y="2672.7" font-size="43.7" textLength="92.9" lengthAdjust="spacingAndGlyphs" style="font-family:'Liberation Serif', 'Times New Roman', serif;" fill="#3a3a3a">R381</text>
<text x="1162.4" y="2716" font-size="7.6" textLength="30.1" lengthAdjust="spacingAndGlyphs" style="font-family:'Liberation Serif', 'Times New Roman', serif;" fill="#666">S118</text>
<text x="1264.3" y="2773.7" font-size="87.2" textLength="183.2" lengthAdjust="spacingAndGlyphs" style="font-family:'Liberation Serif', 'Times New Roman', serif;" fill="#3a3a3a">F476</text>
<text x="1411" y="2812" font-size="7.6" textLength="29.7" lengthAdjust="spacingAndGlyphs" style="font-family:'Liberation Serif', 'Times New Roman', serif;" fill="#666">W461</text>
<text x="1391.1" y="2867.6" font-size="29.2" textLength="71.7" lengthAdjust="spacingAndGlyphs" style="font-family:'Liberation Serif', 'Times New Roman', serif;" fill="#3a3a3a">H477</text>
</g>
<g fill="#8cc8ec" fill-opacity="0.1" stroke="#4aa6dc" stroke-opacity="0.4" stroke-width="1.3">
<ellipse cx="707.5" cy="339.2" rx="18" ry="25.6" transform="rotate(15 707.5 339.2)"/>
<ellipse cx="706.1" cy="336.4" rx="18" ry="23.3" transform="rotate(16.1 706.1 336.4)"/>
<ellipse cx="671.7" cy="352" rx="20" ry="23"/>
<ellipse cx="670.6" cy="348.5" rx="19.5" ry="20.8" transform="rotate(-2 670.6 348.5)"/>
<ellipse cx="661.4" cy="390.4" rx="18" ry="22"/>
<ellipse cx="658" cy="387.1" rx="17.3" ry="22.5" transform="rotate(-11.3 658 387.1)"/>
<ellipse cx="666.5" cy="426.2" rx="20" ry="23" transform="rotate(-10 666.5 426.2)"/>
<ellipse cx="664.3" cy="427.2" rx="20.8" ry="22.7" transform="rotate(-13.1 664.3 427.2)"/>
<ellipse cx="653.8" cy="456.9" rx="18" ry="22"/>
<ellipse cx="657.6" cy="453.3" rx="18.5" ry="20.8" transform="rotate(-10.7 657.6 453.3)"/>
<ellipse cx="618" cy="482.4" rx="22" ry="25"/>
<ellipse cx="614.9" cy="480.9" rx="22.5" ry="23.2" transform="rotate(2.4 614.9 480.9)"/>
<ellipse cx="618" cy="518.2" rx="20" ry="24"/>
<ellipse cx="619.1" cy="517.2" rx="19.6" ry="21.8" transform="rotate(-13.2 619.1 517.2)"/>
<ellipse cx="612" cy="533.6" rx="20" ry="22"/>
<ellipse cx="609.6" cy="535" rx="19.3" ry="20.8" transform="rotate(2.6 609.6 535)"/>
<ellipse cx="628" cy="579.4" rx="19" ry="24" transform="rotate(-10 628 579.4)"/>
<ellipse cx="627.6" cy="577.8" rx="19.4" ry="24.1" transform="rotate(-17.7 627.6 577.8)"/>
<ellipse cx="649.8" cy="591.5" rx="19" ry="26" transform="rotate(20 649.8 591.5)"/>
<ellipse cx="650.4" cy="591.7" rx="19.6" ry="26.2" transform="rotate(13.6 650.4 591.7)"/>
<ellipse cx="661.4" cy="579.6" rx="18" ry="22"/>
<ellipse cx="665.2" cy="576.5" rx="17.3" ry="22.3" transform="rotate(-10.4 665.2 576.5)"/>
<ellipse cx="700.3" cy="584.2" rx="19" ry="26" transform="rotate(25 700.3 584.2)"/>
<ellipse cx="700.2" cy="580.5" rx="19" ry="26.4" transform="rotate(27.2 700.2 580.5)"/>
<ellipse cx="698" cy="613" rx="17" ry="12" transform="rotate(-20 698 613)"/>
<ellipse cx="701" cy="611.5" rx="17.1" ry="11.9" transform="rotate(-17.6 701 611.5)"/>
<ellipse cx="649.8" cy="608.3" rx="18" ry="22"/>
<ellipse cx="649.4" cy="611" rx="18.8" ry="21.4" transform="rotate(4.9 649.4 611)"/>
<ellipse cx="666.5" cy="600" rx="20" ry="22"/>
<ellipse cx="663" cy="601.6" rx="19.9" ry="23.1" transform="rotate(9.7 663 601.6)"/>
<ellipse cx="694.7" cy="610.3" rx="18" ry="24"/>
<ellipse cx="693" cy="609.4" rx="18" ry="21.7" transform="rotate(-1.1 693 609.4)"/>
<ellipse cx="690.7" cy="658.8" rx="12" ry="22"/>
<ellipse cx="688" cy="655.7" rx="10.9" ry="22.3" transform="rotate(-11.1 688 655.7)"/>
<ellipse cx="681.9" cy="630.8" rx="18" ry="22"/>
<ellipse cx="679.9" cy="629.9" rx="18.6" ry="20.1" transform="rotate(-1.5 679.9 629.9)"/>
<ellipse cx="647.4" cy="668.5" rx="29" ry="31"/>
<ellipse cx="647.8" cy="671.6" rx="29.7" ry="31.9" transform="rotate(-6.6 647.8 671.6)"/>
<ellipse cx="630.5" cy="683" rx="22" ry="26"/>
<ellipse cx="629.8" cy="681.9" rx="22.7" ry="27.1" transform="rotate(-10.5 629.8 681.9)"/>
<ellipse cx="661.8" cy="692.5" rx="22" ry="26"/>
<ellipse cx="659.2" cy="690.4" rx="20.6" ry="25.3" transform="rotate(2.7 659.2 690.4)"/>
<ellipse cx="637.7" cy="711.8" rx="22" ry="14"/>
<ellipse cx="635.8" cy="707.8" rx="21.2" ry="13.4" transform="rotate(2 635.8 707.8)"/>
<ellipse cx="656" cy="666" rx="20" ry="24" transform="rotate(10 656 666)"/>
<ellipse cx="659.6" cy="667.5" rx="19.5" ry="23.8" transform="rotate(15.3 659.6 667.5)"/>
<ellipse cx="666.5" cy="681.9" rx="18" ry="24"/>
<ellipse cx="662.9" cy="685.1" rx="18.3" ry="24.7" transform="rotate(8.9 662.9 685.1)"/>
<ellipse cx="641" cy="702.3" rx="20" ry="22"/>
<ellipse cx="640.1" cy="701.5" rx="18.3" ry="21.9" transform="rotate(-13.1 640.1 701.5)"/>
<ellipse cx="687" cy="676.8" rx="16" ry="22"/>
<ellipse cx="683.5" cy="674.5" rx="14.8" ry="20.9" transform="rotate(-13.4 683.5 674.5)"/>
<ellipse cx="652" cy="650" rx="16" ry="22" transform="rotate(-15 652 650)"/>
<ellipse cx="648" cy="647.2" rx="14.6" ry="21" transform="rotate(-29.2 648 647.2)"/>
<ellipse cx="660" cy="672" rx="14" ry="20" transform="rotate(20 660 672)"/>
<ellipse cx="663" cy="672.9" rx="12.9" ry="18.8" transform="rotate(15.4 663 672.9)"/>
</g>
<g fill="#3d9fd8" fill-opacity="0.22" stroke="#2a8ccc" stroke-opacity="0.45" stroke-width="1.3">
<ellipse cx="624.6" cy="1481" rx="26" ry="26"/>
<ellipse cx="623.5" cy="1478" rx="26.7" ry="27.3" transform="rotate(-1 623.5 1478)"/>
<ellipse cx="624.5" cy="1477.7" rx="23.8" ry="24.7" transform="rotate(-7.1 624.5 1477.7)"/>
<ellipse cx="615" cy="1505" rx="27" ry="27"/>
<ellipse cx="617.6" cy="1502.3" rx="24.4" ry="28.2" transform="rotate(0.8 617.6 1502.3)"/>
<ellipse cx="612.2" cy="1505.3" rx="24.4" ry="26.4" transform="rotate(14.4 612.2 1505.3)"/>
<ellipse cx="607.7" cy="1529" rx="27" ry="27"/>
<ellipse cx="610.6" cy="1530.6" rx="25.4" ry="25.8" transform="rotate(-10 610.6 1530.6)"/>
<ellipse cx="609.9" cy="1529.3" rx="27.5" ry="25.6" transform="rotate(-8.3 609.9 1529.3)"/>
<ellipse cx="603" cy="1553" rx="27" ry="27"/>
<ellipse cx="605.5" cy="1556.9" rx="27.8" ry="27.6" transform="rotate(9.5 605.5 1556.9)"/>
<ellipse cx="604.9" cy="1550.8" rx="26.4" ry="25.7" transform="rotate(-14.1 604.9 1550.8)"/>
<ellipse cx="598" cy="1577" rx="26" ry="26"/>
<ellipse cx="594.2" cy="1575.2" rx="24.4" ry="26.1" transform="rotate(13.7 594.2 1575.2)"/>
<ellipse cx="597.6" cy="1580.5" rx="27.3" ry="27.1" transform="rotate(-4.1 597.6 1580.5)"/>
<ellipse cx="620" cy="1493" rx="25" ry="25"/>
<ellipse cx="617.8" cy="1490.8" rx="23.2" ry="23.3" transform="rotate(3.7 617.8 1490.8)"/>
<ellipse cx="623.2" cy="1495.7" rx="24.3" ry="24.9" transform="rotate(9 623.2 1495.7)"/>
<ellipse cx="611" cy="1517" rx="26" ry="26"/>
<ellipse cx="607.7" cy="1518.3" rx="26.9" ry="26.5" transform="rotate(7.5 607.7 1518.3)"/>
<ellipse cx="610.8" cy="1514.4" rx="26.5" ry="24.7" transform="rotate(9 610.8 1514.4)"/>
<ellipse cx="605" cy="1541" rx="26" ry="26"/>
<ellipse cx="608.8" cy="1540.2" rx="25" ry="27.1" transform="rotate(6.7 608.8 1540.2)"/>
<ellipse cx="602.4" cy="1538" rx="24" ry="26.9" transform="rotate(9.2 602.4 1538)"/>
<ellipse cx="600" cy="1565" rx="26" ry="26"/>
<ellipse cx="597.2" cy="1567.6" rx="27.2" ry="26" transform="rotate(-4.5 597.2 1567.6)"/>
<ellipse cx="600.4" cy="1562" rx="23.5" ry="27.2" transform="rotate(4.5 600.4 1562)"/>
<ellipse cx="630" cy="1470" rx="22" ry="22"/>
<ellipse cx="630.2" cy="1473.5" rx="21.2" ry="22.7" transform="rotate(9.8 630.2 1473.5)"/>
<ellipse cx="627.7" cy="1468" rx="20.8" ry="20.6" transform="rotate(2.6 627.7 1468)"/>
<ellipse cx="588" cy="1505" rx="14" ry="22"/>
<ellipse cx="586.1" cy="1504.4" rx="12.9" ry="22.8" transform="rotate(-4.4 586.1 1504.4)"/>
<ellipse cx="587.7" cy="1505.7" rx="14.5" ry="21.2" transform="rotate(12.5 587.7 1505.7)"/>
</g>
<g fill="#8cc8ec" fill-opacity="0.12" stroke="#5aaee0" stroke-opacity="0.35" stroke-width="1.3">
<ellipse cx="631.8" cy="1611" rx="26" ry="26"/>
<ellipse cx="631.8" cy="1611.3" rx="25.4" ry="23.5" transform="rotate(-1.8 631.8 1611.3)"/>
<ellipse cx="651" cy="1628" rx="24" ry="24"/>
<ellipse cx="648.5" cy="1624" rx="24.5" ry="22.2" transform="rotate(-0.8 648.5 1624)"/>
<ellipse cx="603" cy="1686" rx="29" ry="29"/>
<ellipse cx="604.8" cy="1686.5" rx="27.5" ry="28.4" transform="rotate(1.7 604.8 1686.5)"/>
<ellipse cx="675" cy="1693" rx="31" ry="31"/>
<ellipse cx="677.3" cy="1689.8" rx="30.5" ry="29.1" transform="rotate(-6.7 677.3 1689.8)"/>
<ellipse cx="708.8" cy="1669" rx="31" ry="31"/>
<ellipse cx="711" cy="1669.1" rx="30.5" ry="31.4" transform="rotate(12.4 711 1669.1)"/>
<ellipse cx="672.7" cy="1662" rx="24" ry="24"/>
<ellipse cx="672.2" cy="1662.9" rx="23.4" ry="23.4" transform="rotate(5.8 672.2 1662.9)"/>
<ellipse cx="636.6" cy="1674" rx="24" ry="24"/>
<ellipse cx="636.2" cy="1674.3" rx="23.3" ry="25" transform="rotate(6 636.2 1674.3)"/>
<ellipse cx="700" cy="1690" rx="26" ry="26"/>
<ellipse cx="703" cy="1693.5" rx="24.4" ry="25.6" transform="rotate(13.3 703 1693.5)"/>
<ellipse cx="612" cy="1700" rx="26" ry="26"/>
<ellipse cx="614.7" cy="1697.1" rx="23.9" ry="25.1" transform="rotate(-12.8 614.7 1697.1)"/>
<ellipse cx="690" cy="1710" rx="26" ry="26"/>
<ellipse cx="687.9" cy="1706.6" rx="26" ry="26.5" transform="rotate(11.9 687.9 1706.6)"/>
</g>
<g fill="#9dd0ef" fill-opacity="0.1" stroke="#6ab8e6" stroke-opacity="0.4" stroke-width="1.3">
<ellipse cx="720.4" cy="2470" rx="34" ry="40"/>
<ellipse cx="717.6" cy="2471.7" rx="34" ry="36.9" transform="rotate(11.5 717.6 2471.7)"/>
<ellipse cx="716" cy="2518.8" rx="36" ry="36"/>
<ellipse cx="719.7" cy="2516.6" rx="37.5" ry="34.6" transform="rotate(-0.4 719.7 2516.6)"/>
<ellipse cx="660" cy="2552" rx="34" ry="34"/>
<ellipse cx="663.9" cy="2554.7" rx="31.4" ry="32.8" transform="rotate(0.5 663.9 2554.7)"/>
<ellipse cx="744" cy="2550" rx="34" ry="34"/>
<ellipse cx="742.7" cy="2547.6" rx="32.2" ry="34.3" transform="rotate(-14.4 742.7 2547.6)"/>
<ellipse cx="660.2" cy="2590" rx="34" ry="34"/>
<ellipse cx="660.6" cy="2589.5" rx="30.7" ry="32.3" transform="rotate(3.7 660.6 2589.5)"/>
<ellipse cx="700" cy="2585" rx="34" ry="34"/>
<ellipse cx="700.1" cy="2581.5" rx="35.6" ry="34.6" transform="rotate(14.2 700.1 2581.5)"/>
<ellipse cx="744" cy="2586" rx="34" ry="34"/>
<ellipse cx="740.8" cy="2584.1" rx="30.8" ry="34.6" transform="rotate(-6.9 740.8 2584.1)"/>
<ellipse cx="780.6" cy="2593.4" rx="34" ry="34"/>
<ellipse cx="777.6" cy="2592.8" rx="35.2" ry="34.8" transform="rotate(-7.2 777.6 2592.8)"/>
<ellipse cx="612.1" cy="2600.6" rx="34" ry="34"/>
<ellipse cx="609.3" cy="2604" rx="33.5" ry="34.2" transform="rotate(-12.3 609.3 2604)"/>
<ellipse cx="684.3" cy="2628" rx="34" ry="34"/>
<ellipse cx="680.8" cy="2629.5" rx="32.8" ry="31" transform="rotate(13.2 680.8 2629.5)"/>
<ellipse cx="631.3" cy="2650" rx="34" ry="34"/>
<ellipse cx="632.4" cy="2652.4" rx="31" ry="35" transform="rotate(-13 632.4 2652.4)"/>
<ellipse cx="564" cy="2672" rx="34" ry="34"/>
<ellipse cx="566.9" cy="2671.6" rx="32.3" ry="33.4" transform="rotate(12.8 566.9 2671.6)"/>
<ellipse cx="602.5" cy="2680" rx="34" ry="34"/>
<ellipse cx="600.6" cy="2677" rx="33.3" ry="31.8" transform="rotate(-11.7 600.6 2677)"/>
<ellipse cx="655" cy="2700" rx="34" ry="34"/>
<ellipse cx="652.3" cy="2696.4" rx="31.6" ry="32.2" transform="rotate(-5.8 652.3 2696.4)"/>
<ellipse cx="575" cy="2710" rx="34" ry="34"/>
<ellipse cx="577.1" cy="2708.3" rx="33.2" ry="31.5" transform="rotate(-4.6 577.1 2708.3)"/>
<ellipse cx="592.8" cy="2750" rx="34" ry="34"/>
<ellipse cx="588.9" cy="2748" rx="30.7" ry="34.3" transform="rotate(1.5 588.9 2748)"/>
<ellipse cx="645.8" cy="2730" rx="34" ry="34"/>
<ellipse cx="643.3" cy="2729.8" rx="35.4" ry="31.1" transform="rotate(9.6 643.3 2729.8)"/>
<ellipse cx="600" cy="2770" rx="34" ry="34"/>
<ellipse cx="599.5" cy="2770" rx="34.9" ry="32.6" transform="rotate(0.2 599.5 2770)"/>
</g>
<g fill="#7ed8a0" fill-opacity="0.08" stroke="#40c070" stroke-opacity="0.25" stroke-width="1.2">
<ellipse cx="1235" cy="575" rx="20" ry="24"/>
<ellipse cx="1236.5" cy="578.9" rx="19" ry="24.6" transform="rotate(6.2 1236.5 578.9)"/>
<ellipse cx="1251" cy="594" rx="22" ry="26"/>
<ellipse cx="1252.1" cy="593.2" rx="20.9" ry="23.6" transform="rotate(-11.1 1252.1 593.2)"/>
<ellipse cx="1268" cy="580" rx="18" ry="24"/>
<ellipse cx="1264.6" cy="581.9" rx="16.9" ry="22.2" transform="rotate(-12.5 1264.6 581.9)"/>
<ellipse cx="1227" cy="599" rx="18" ry="22"/>
<ellipse cx="1229.7" cy="602" rx="18" ry="20.7" transform="rotate(-7.7 1229.7 602)"/>
<ellipse cx="1262" cy="615" rx="22" ry="24"/>
<ellipse cx="1260.3" cy="614.7" rx="20.3" ry="23.2" transform="rotate(-7.1 1260.3 614.7)"/>
<ellipse cx="1289" cy="594" rx="20" ry="24"/>
<ellipse cx="1292.7" cy="597.8" rx="19.6" ry="22.5" transform="rotate(14 1292.7 597.8)"/>
<ellipse cx="1298" cy="618" rx="20" ry="24"/>
<ellipse cx="1296.5" cy="616.9" rx="18" ry="23" transform="rotate(-0.8 1296.5 616.9)"/>
<ellipse cx="1245" cy="610" rx="18" ry="22"/>
<ellipse cx="1245" cy="607.6" rx="17.6" ry="19.8" transform="rotate(-7.1 1245 607.6)"/>
<ellipse cx="1280" cy="625" rx="20" ry="22"/>
<ellipse cx="1276.7" cy="624.2" rx="18.1" ry="19.9" transform="rotate(-5.9 1276.7 624.2)"/>
<ellipse cx="1240" cy="590" rx="16" ry="20"/>
<ellipse cx="1237.9" cy="590.7" rx="15.7" ry="20.3" transform="rotate(4.7 1237.9 590.7)"/>
</g>
<g fill="#50c884" fill-opacity="0.08" stroke="#1aad5a" stroke-opacity="0.3" stroke-width="1.2">
<ellipse cx="1276.4" cy="495.5" rx="26" ry="24"/>
<ellipse cx="1278.1" cy="498.5" rx="24.9" ry="22.8" transform="rotate(14.5 1278.1 498.5)"/>
<ellipse cx="1288.5" cy="514.8" rx="24" ry="36"/>
<ellipse cx="1285.7" cy="516.6" rx="23.9" ry="32.6" transform="rotate(10.1 1285.7 516.6)"/>
<ellipse cx="1264.4" cy="524.4" rx="22" ry="38"/>
<ellipse cx="1267.5" cy="525.4" rx="22.2" ry="38.8" transform="rotate(-10.8 1267.5 525.4)"/>
<ellipse cx="1312.5" cy="534" rx="22" ry="29"/>
<ellipse cx="1312.7" cy="534" rx="22.6" ry="29.6" transform="rotate(9.8 1312.7 534)"/>
<ellipse cx="1276.4" cy="548.5" rx="24" ry="24"/>
<ellipse cx="1277.1" cy="551.6" rx="24.1" ry="24.1" transform="rotate(-8.1 1277.1 551.6)"/>
<ellipse cx="1324.6" cy="572.5" rx="19" ry="24"/>
<ellipse cx="1320.8" cy="569.6" rx="18.1" ry="22" transform="rotate(10.1 1320.8 569.6)"/>
<ellipse cx="1295" cy="530" rx="18" ry="34" transform="rotate(10 1295 530)"/>
<ellipse cx="1295.5" cy="531" rx="17.9" ry="34.1" transform="rotate(9.7 1295.5 531)"/>
<ellipse cx="1280" cy="510" rx="20" ry="30" transform="rotate(-10 1280 510)"/>
<ellipse cx="1276" cy="512.4" rx="20.2" ry="29.3" transform="rotate(-8.9 1276 512.4)"/>
<ellipse cx="1300" cy="550" rx="20" ry="26"/>
<ellipse cx="1301.3" cy="546.5" rx="20.2" ry="24.4" transform="rotate(-12.8 1301.3 546.5)"/>
<ellipse cx="1270" cy="540" rx="18" ry="30"/>
<ellipse cx="1268.1" cy="541.8" rx="16.8" ry="30.3" transform="rotate(14.3 1268.1 541.8)"/>
</g>
<g fill="#10b060" fill-opacity="0.22" stroke="#00a050" stroke-opacity="0.4" stroke-width="1.2">
<ellipse cx="1330" cy="588" rx="18" ry="24"/>
<ellipse cx="1330" cy="587.1" rx="17.5" ry="24.1" transform="rotate(8 1330 587.1)"/>
<ellipse cx="1349" cy="610" rx="20" ry="26"/>
<ellipse cx="1349.9" cy="611.1" rx="18.2" ry="24" transform="rotate(-7.4 1349.9 611.1)"/>
<ellipse cx="1365" cy="621" rx="20" ry="24"/>
<ellipse cx="1366.9" cy="619.4" rx="19.7" ry="21.6" transform="rotate(-13.2 1366.9 619.4)"/>
<ellipse cx="1379" cy="605" rx="18" ry="24"/>
<ellipse cx="1377.2" cy="606.4" rx="18.1" ry="24" transform="rotate(-6.3 1377.2 606.4)"/>
<ellipse cx="1344" cy="637" rx="20" ry="24"/>
<ellipse cx="1344.1" cy="636.7" rx="19.4" ry="22" transform="rotate(11.8 1344.1 636.7)"/>
<ellipse cx="1360" cy="648" rx="20" ry="24"/>
<ellipse cx="1357.6" cy="651.8" rx="20.8" ry="21.7" transform="rotate(-1.2 1357.6 651.8)"/>
<ellipse cx="1382" cy="642" rx="18" ry="24"/>
<ellipse cx="1384.6" cy="645.7" rx="17.4" ry="22.6" transform="rotate(-8.7 1384.6 645.7)"/>
<ellipse cx="1330" cy="661" rx="20" ry="24"/>
<ellipse cx="1333.6" cy="658.7" rx="19.7" ry="22.1" transform="rotate(0.7 1333.6 658.7)"/>
<ellipse cx="1352" cy="675" rx="20" ry="24"/>
<ellipse cx="1355.6" cy="672.1" rx="20.5" ry="23.4" transform="rotate(11.6 1355.6 672.1)"/>
<ellipse cx="1371" cy="670" rx="18" ry="24"/>
<ellipse cx="1372.6" cy="667.9" rx="18.6" ry="23.4" transform="rotate(-14.3 1372.6 667.9)"/>
<ellipse cx="1317" cy="688" rx="20" ry="24"/>
<ellipse cx="1313" cy="687.9" rx="19.4" ry="22.7" transform="rotate(-10.8 1313 687.9)"/>
<ellipse cx="1338" cy="697" rx="20" ry="24"/>
<ellipse cx="1336.8" cy="695.5" rx="20.5" ry="21.6" transform="rotate(7.5 1336.8 695.5)"/>
<ellipse cx="1360" cy="694" rx="18" ry="22"/>
<ellipse cx="1362.7" cy="691" rx="18.7" ry="22.2" transform="rotate(12 1362.7 691)"/>
<ellipse cx="1318" cy="706" rx="20" ry="14"/>
<ellipse cx="1316.3" cy="705" rx="19.2" ry="14.7" transform="rotate(2.7 1316.3 705)"/>
<ellipse cx="1387" cy="621" rx="16" ry="22"/>
<ellipse cx="1385.9" cy="620.4" rx="15.1" ry="20" transform="rotate(-11.9 1385.9 620.4)"/>
<ellipse cx="1352" cy="655" rx="16" ry="20"/>
<ellipse cx="1354.7" cy="653.3" rx="16.6" ry="18.7" transform="rotate(-7 1354.7 653.3)"/>
<ellipse cx="1345" cy="665" rx="14" ry="22" transform="rotate(15 1345 665)"/>
<ellipse cx="1345.1" cy="662.5" rx="13.4" ry="23" transform="rotate(26.5 1345.1 662.5)"/>
<ellipse cx="1358" cy="630" rx="14" ry="20" transform="rotate(-15 1358 630)"/>
<ellipse cx="1360.5" cy="631" rx="14.5" ry="20.8" transform="rotate(-13.5 1360.5 631)"/>
<ellipse cx="1340" cy="620" rx="12" ry="18"/>
<ellipse cx="1341.8" cy="616.4" rx="12.1" ry="17.4" transform="rotate(7.6 1341.8 616.4)"/>
<ellipse cx="1365" cy="660" rx="14" ry="18"/>
<ellipse cx="1366.2" cy="658.3" rx="12.7" ry="18.7" transform="rotate(-11.2 1366.2 658.3)"/>
<ellipse cx="1348" cy="645" rx="14" ry="20"/>
<ellipse cx="1347.8" cy="643.7" rx="13.2" ry="20.2" transform="rotate(14.3 1347.8 643.7)"/>
<ellipse cx="1356" cy="668" rx="12" ry="18"/>
<ellipse cx="1354.1" cy="669.2" rx="11.3" ry="17.7" transform="rotate(-3.2 1354.1 669.2)"/>
<ellipse cx="1342" cy="680" rx="14" ry="18"/>
<ellipse cx="1339.3" cy="677.3" rx="13" ry="18.6" transform="rotate(-0.1 1339.3 677.3)"/>
<ellipse cx="1362" cy="640" rx="12" ry="16"/>
<ellipse cx="1359.8" cy="643.3" rx="12.6" ry="15.5" transform="rotate(-10.8 1359.8 643.3)"/>
</g>
<g fill="#38c070" fill-opacity="0.14" stroke="#10a850" stroke-opacity="0.5" stroke-width="1.5">
<ellipse cx="1305.4" cy="1485" rx="26.5" ry="26.5"/>
<ellipse cx="1302.9" cy="1481.7" rx="25.2" ry="24.2" transform="rotate(-7.8 1302.9 1481.7)"/>
<ellipse cx="1300" cy="1490" rx="24" ry="24"/>
<ellipse cx="1298.1" cy="1490.6" rx="24.8" ry="24.3" transform="rotate(-2.6 1298.1 1490.6)"/>
<ellipse cx="1310" cy="1482" rx="22" ry="22"/>
<ellipse cx="1309.3" cy="1482.2" rx="21" ry="20.9" transform="rotate(-13.1 1309.3 1482.2)"/>
<ellipse cx="1286.2" cy="1499.5" rx="26.5" ry="26.5"/>
<ellipse cx="1284.4" cy="1503.2" rx="24.4" ry="25.9" transform="rotate(3.9 1284.4 1503.2)"/>
<ellipse cx="1269.4" cy="1547.7" rx="26.5" ry="26.5"/>
<ellipse cx="1272.3" cy="1545.4" rx="24.9" ry="24.8" transform="rotate(-3 1272.3 1545.4)"/>
<ellipse cx="1298.2" cy="1579" rx="25" ry="25"/>
<ellipse cx="1297.8" cy="1582.6" rx="25.7" ry="25.8" transform="rotate(-14.3 1297.8 1582.6)"/>
<ellipse cx="1336.7" cy="1569.3" rx="26.5" ry="26.5"/>
<ellipse cx="1333" cy="1571" rx="27.4" ry="25.7" transform="rotate(2.6 1333 1571)"/>
<ellipse cx="1382.5" cy="1612.6" rx="26.5" ry="26.5"/>
<ellipse cx="1378.5" cy="1611.7" rx="27.5" ry="27.1" transform="rotate(10.7 1378.5 1611.7)"/>
<ellipse cx="1322.3" cy="1631.9" rx="26.5" ry="26.5"/>
<ellipse cx="1326.1" cy="1629.9" rx="24.3" ry="24.5" transform="rotate(0.7 1326.1 1629.9)"/>
<ellipse cx="1350" cy="1600" rx="24" ry="24"/>
<ellipse cx="1351.5" cy="1603.5" rx="24.2" ry="23.9" transform="rotate(7.9 1351.5 1603.5)"/>
<ellipse cx="1363.2" cy="1668" rx="26.5" ry="26.5"/>
<ellipse cx="1362.9" cy="1668.4" rx="24" ry="27" transform="rotate(-8 1362.9 1668.4)"/>
<ellipse cx="1335" cy="1655" rx="24" ry="24"/>
<ellipse cx="1338.4" cy="1656.2" rx="22.7" ry="22.1" transform="rotate(-7.4 1338.4 1656.2)"/>
<ellipse cx="1370.4" cy="1713.7" rx="26.5" ry="26.5"/>
<ellipse cx="1371.5" cy="1715.3" rx="24.3" ry="24.1" transform="rotate(0.7 1371.5 1715.3)"/>
<ellipse cx="1329.5" cy="1733" rx="26.5" ry="26.5"/>
<ellipse cx="1330.2" cy="1732.1" rx="24.7" ry="26.2" transform="rotate(-14.7 1330.2 1732.1)"/>
<ellipse cx="1281.4" cy="1713.7" rx="26.5" ry="26.5"/>
<ellipse cx="1279.8" cy="1713.4" rx="27.7" ry="26.4" transform="rotate(11.5 1279.8 1713.4)"/>
<ellipse cx="1267" cy="1749.8" rx="26.5" ry="26.5"/>
<ellipse cx="1266.8" cy="1747.7" rx="24.8" ry="27.7" transform="rotate(6.1 1266.8 1747.7)"/>
<ellipse cx="1310.3" cy="1769.1" rx="28" ry="28"/>
<ellipse cx="1308.8" cy="1765.3" rx="27.3" ry="28" transform="rotate(-2.4 1308.8 1765.3)"/>
<ellipse cx="1233.3" cy="1783.5" rx="28" ry="28"/>
<ellipse cx="1231.4" cy="1784.8" rx="29.1" ry="26.2" transform="rotate(-14 1231.4 1784.8)"/>
</g>
<g fill="#70d098" fill-opacity="0.07" stroke="#30b868" stroke-opacity="0.2" stroke-width="1.2">
<ellipse cx="1411.2" cy="2379.1" rx="36" ry="36"/>
<ellipse cx="1409.9" cy="2378.5" rx="36.1" ry="33.5" transform="rotate(8.9 1409.9 2378.5)"/>
<ellipse cx="1425.7" cy="2417.6" rx="36" ry="36"/>
<ellipse cx="1427.6" cy="2417.6" rx="33.5" ry="37.6" transform="rotate(-5.6 1427.6 2417.6)"/>
<ellipse cx="1493" cy="2427.2" rx="36" ry="36"/>
<ellipse cx="1495.6" cy="2425" rx="33.6" ry="36.5" transform="rotate(-6.2 1495.6 2425)"/>
<ellipse cx="1363" cy="2436.9" rx="36" ry="36"/>
<ellipse cx="1366.6" cy="2436.9" rx="33.4" ry="33.6" transform="rotate(-2.5 1366.6 2436.9)"/>
<ellipse cx="1392" cy="2465" rx="36" ry="36"/>
<ellipse cx="1393.3" cy="2468.6" rx="33.2" ry="34.5" transform="rotate(-8.6 1393.3 2468.6)"/>
<ellipse cx="1440" cy="2485" rx="36" ry="36"/>
<ellipse cx="1443.8" cy="2482.1" rx="32.7" ry="32.7" transform="rotate(-3.2 1443.8 2482.1)"/>
<ellipse cx="1469" cy="2500" rx="36" ry="36"/>
<ellipse cx="1472.2" cy="2503.1" rx="36.4" ry="37.8" transform="rotate(12.9 1472.2 2503.1)"/>
<ellipse cx="1339" cy="2514" rx="36" ry="36"/>
<ellipse cx="1337.6" cy="2511.5" rx="37.5" ry="36.4" transform="rotate(-14 1337.6 2511.5)"/>
<ellipse cx="1363" cy="2533" rx="36" ry="36"/>
<ellipse cx="1364.3" cy="2532" rx="34.4" ry="34.2" transform="rotate(-9.9 1364.3 2532)"/>
<ellipse cx="1400" cy="2540" rx="36" ry="36"/>
<ellipse cx="1396" cy="2538.2" rx="34.3" ry="37.6" transform="rotate(-11.3 1396 2538.2)"/>
<ellipse cx="1330" cy="2560" rx="36" ry="36"/>
<ellipse cx="1333.7" cy="2557.7" rx="34.3" ry="36.8" transform="rotate(9.7 1333.7 2557.7)"/>
<ellipse cx="1380" cy="2575" rx="36" ry="36"/>
<ellipse cx="1379.5" cy="2571.4" rx="35" ry="34.4" transform="rotate(12.6 1379.5 2571.4)"/>
<ellipse cx="1420" cy="2560" rx="36" ry="36"/>
<ellipse cx="1417.5" cy="2558.9" rx="37.2" ry="32.6" transform="rotate(-2.7 1417.5 2558.9)"/>
<ellipse cx="1286" cy="2605.3" rx="36" ry="36"/>
<ellipse cx="1288.5" cy="2607.4" rx="32.6" ry="32.6" transform="rotate(-13.1 1288.5 2607.4)"/>
<ellipse cx="1276" cy="2639" rx="36" ry="36"/>
<ellipse cx="1279.4" cy="2637.1" rx="36.4" ry="37.3" transform="rotate(-4.8 1279.4 2637.1)"/>
<ellipse cx="1445" cy="2610" rx="36" ry="36"/>
<ellipse cx="1443.2" cy="2613.7" rx="35.7" ry="33.8" transform="rotate(6.5 1443.2 2613.7)"/>
<ellipse cx="1339" cy="2629" rx="36" ry="36"/>
<ellipse cx="1337.5" cy="2627.2" rx="32.4" ry="36.5" transform="rotate(12.5 1337.5 2627.2)"/>
<ellipse cx="1390" cy="2610" rx="36" ry="36"/>
<ellipse cx="1391.1" cy="2613.5" rx="32.5" ry="33.7" transform="rotate(-0.7 1391.1 2613.5)"/>
<ellipse cx="1440" cy="2677.5" rx="36" ry="36"/>
<ellipse cx="1443.7" cy="2681.1" rx="34.5" ry="33.8" transform="rotate(-2.1 1443.7 2681.1)"/>
<ellipse cx="1325" cy="2692" rx="36" ry="36"/>
<ellipse cx="1324.9" cy="2695.4" rx="33.4" ry="36.7" transform="rotate(7.2 1324.9 2695.4)"/>
<ellipse cx="1387" cy="2701" rx="36" ry="36"/>
<ellipse cx="1389.6" cy="2703.2" rx="35.7" ry="34.2" transform="rotate(-5.4 1389.6 2703.2)"/>
<ellipse cx="1401.6" cy="2740" rx="36" ry="36"/>
<ellipse cx="1400.5" cy="2742.3" rx="32.8" ry="33.5" transform="rotate(7.6 1400.5 2742.3)"/>
<ellipse cx="1406" cy="2773" rx="36" ry="36"/>
<ellipse cx="1404" cy="2769.5" rx="32.6" ry="35.4" transform="rotate(-5.2 1404 2769.5)"/>
<ellipse cx="1325" cy="2716" rx="36" ry="36"/>
<ellipse cx="1328.8" cy="2719.1" rx="37.7" ry="33.8" transform="rotate(-12.5 1328.8 2719.1)"/>
<ellipse cx="1350" cy="2500" rx="30" ry="30"/>
<ellipse cx="1346.8" cy="2500" rx="30.2" ry="29" transform="rotate(-8 1346.8 2500)"/>
<ellipse cx="1370" cy="2520" rx="30" ry="30"/>
<ellipse cx="1369.3" cy="2521" rx="30" ry="30.4" transform="rotate(10.4 1369.3 2521)"/>
<ellipse cx="1345" cy="2550" rx="30" ry="30"/>
<ellipse cx="1346.3" cy="2547" rx="30.8" ry="28.3" transform="rotate(2 1346.3 2547)"/>
</g>
<g fill="#40c078" fill-opacity="0.07" stroke="#20b060" stroke-opacity="0.18" stroke-width="1.0">
<ellipse cx="1331.6" cy="2511.6" rx="34" ry="34"/>
<ellipse cx="1330.6" cy="2513.5" rx="31.6" ry="31.9" transform="rotate(-7.6 1330.6 2513.5)"/>
<ellipse cx="1364.7" cy="2528" rx="34" ry="34"/>
<ellipse cx="1361.9" cy="2531.1" rx="33.5" ry="32.3" transform="rotate(-3.1 1361.9 2531.1)"/>
<ellipse cx="1397.8" cy="2511.6" rx="34" ry="34"/>
<ellipse cx="1401.7" cy="2511.7" rx="31.8" ry="34.7" transform="rotate(4.6 1401.7 2511.7)"/>
<ellipse cx="1414.4" cy="2544.7" rx="34" ry="34"/>
<ellipse cx="1418.3" cy="2541.5" rx="33" ry="34.8" transform="rotate(10.2 1418.3 2541.5)"/>
<ellipse cx="1331.6" cy="2561.3" rx="34" ry="34"/>
<ellipse cx="1334.9" cy="2557.6" rx="32.1" ry="31.2" transform="rotate(-9.3 1334.9 2557.6)"/>
<ellipse cx="1381.3" cy="2571.2" rx="34" ry="34"/>
<ellipse cx="1385.1" cy="2571.9" rx="35.3" ry="32.5" transform="rotate(11 1385.1 2571.9)"/>
<ellipse cx="1430.9" cy="2561.3" rx="34" ry="34"/>
<ellipse cx="1430.5" cy="2559.4" rx="34.6" ry="35.4" transform="rotate(-11.8 1430.5 2559.4)"/>
<ellipse cx="1350" cy="2540" rx="30" ry="30"/>
<ellipse cx="1350.8" cy="2541" rx="28" ry="28.7" transform="rotate(-10.8 1350.8 2541)"/>
<ellipse cx="1395" cy="2545" rx="30" ry="30"/>
<ellipse cx="1392.6" cy="2543" rx="29.7" ry="29.9" transform="rotate(-8.9 1392.6 2543)"/>
<ellipse cx="1370" cy="2500" rx="30" ry="30"/>
<ellipse cx="1366.1" cy="2498.6" rx="30.1" ry="27.8" transform="rotate(-5.6 1366.1 2498.6)"/>
<ellipse cx="1345" cy="2585" rx="30" ry="30"/>
<ellipse cx="1342.6" cy="2587.4" rx="29.5" ry="27.3" transform="rotate(-12 1342.6 2587.4)"/>
<ellipse cx="1410" cy="2585" rx="30" ry="30"/>
<ellipse cx="1409.2" cy="2585.4" rx="29.9" ry="27.4" transform="rotate(-10.1 1409.2 2585.4)"/>
</g>
<g fill="#b48ad6" fill-opacity="0.07" stroke="#a070cc" stroke-opacity="0.10" stroke-width="1">
<ellipse cx="1931.3" cy="485.4" rx="15.7" ry="18.5" transform="rotate(27.2 1931.3 485.4)"/>
<ellipse cx="1942.3" cy="480.9" rx="16.1" ry="19.3" transform="rotate(21.9 1942.3 480.9)"/>
<ellipse cx="1961.9" cy="473.6" rx="15.2" ry="21.8" transform="rotate(-17.8 1961.9 473.6)"/>
<ellipse cx="1970.9" cy="479.3" rx="16.5" ry="22.6" transform="rotate(-5.6 1970.9 479.3)"/>
<ellipse cx="1994.9" cy="477.2" rx="15" ry="16.1" transform="rotate(3.1 1994.9 477.2)"/>
<ellipse cx="1995.9" cy="487.9" rx="14.5" ry="21" transform="rotate(-7.7 1995.9 487.9)"/>
<ellipse cx="1997.6" cy="488.9" rx="15.7" ry="20.2" transform="rotate(25.5 1997.6 488.9)"/>
<ellipse cx="2000.1" cy="501.5" rx="18.8" ry="23.7" transform="rotate(-18.2 2000.1 501.5)"/>
<ellipse cx="2005.9" cy="515" rx="19.9" ry="19.9" transform="rotate(-26.8 2005.9 515)"/>
<ellipse cx="2026.4" cy="516.2" rx="19.4" ry="21" transform="rotate(19.5 2026.4 516.2)"/>
<ellipse cx="2034.4" cy="525.1" rx="15.3" ry="19.2" transform="rotate(20.8 2034.4 525.1)"/>
<ellipse cx="2051.1" cy="525.9" rx="15.3" ry="19.2" transform="rotate(1.1 2051.1 525.9)"/>
<ellipse cx="2058.8" cy="531.1" rx="15.5" ry="21.8" transform="rotate(23.8 2058.8 531.1)"/>
<ellipse cx="2058.9" cy="548.8" rx="18.5" ry="16.3" transform="rotate(20.3 2058.9 548.8)"/>
<ellipse cx="2062.4" cy="563.2" rx="17.3" ry="21" transform="rotate(-11.6 2062.4 563.2)"/>
<ellipse cx="2062" cy="574.4" rx="16.6" ry="21.3" transform="rotate(-3.2 2062 574.4)"/>
<ellipse cx="2059.2" cy="581.2" rx="17.7" ry="19.9" transform="rotate(-15.9 2059.2 581.2)"/>
<ellipse cx="2056.2" cy="598.6" rx="16.7" ry="17.4" transform="rotate(-1.6 2056.2 598.6)"/>
<ellipse cx="2045.3" cy="604.6" rx="16.6" ry="16.7" transform="rotate(-3.5 2045.3 604.6)"/>
<ellipse cx="2052.8" cy="616.7" rx="17.8" ry="16.7" transform="rotate(14 2052.8 616.7)"/>
<ellipse cx="2059.1" cy="633.2" rx="14.3" ry="20" transform="rotate(-7.3 2059.1 633.2)"/>
<ellipse cx="2059.1" cy="644.3" rx="19.1" ry="24" transform="rotate(13.9 2059.1 644.3)"/>
<ellipse cx="2056.6" cy="658.9" rx="19.9" ry="19.9" transform="rotate(27.4 2056.6 658.9)"/>
<ellipse cx="2051.8" cy="672.9" rx="18.7" ry="23.4" transform="rotate(-26.1 2051.8 672.9)"/>
<ellipse cx="2041.6" cy="691.7" rx="15" ry="23.2" transform="rotate(-13.5 2041.6 691.7)"/>
<ellipse cx="2034" cy="693.9" rx="17" ry="23.4" transform="rotate(-17.5 2034 693.9)"/>
<ellipse cx="2018.3" cy="703.8" rx="15.9" ry="16.3" transform="rotate(-19.1 2018.3 703.8)"/>
<ellipse cx="1997.7" cy="710.1" rx="18.1" ry="23.2" transform="rotate(-19.9 1997.7 710.1)"/>
<ellipse cx="1982.9" cy="706.3" rx="17.2" ry="21.1" transform="rotate(-8.4 1982.9 706.3)"/>
<ellipse cx="1973.6" cy="707" rx="17.5" ry="23.1" transform="rotate(-23.7 1973.6 707)"/>
<ellipse cx="1964.7" cy="704.8" rx="16.4" ry="22.4" transform="rotate(-14.1 1964.7 704.8)"/>
<ellipse cx="1957.6" cy="693.1" rx="16.2" ry="22.1" transform="rotate(-3.5 1957.6 693.1)"/>
<ellipse cx="1944.1" cy="683.2" rx="14.3" ry="22.6" transform="rotate(-14.8 1944.1 683.2)"/>
<ellipse cx="1946.3" cy="675.2" rx="17.5" ry="21.3" transform="rotate(-11.2 1946.3 675.2)"/>
<ellipse cx="1939.8" cy="657.7" rx="14.9" ry="20.9" transform="rotate(-4.1 1939.8 657.7)"/>
<ellipse cx="1941.1" cy="654.6" rx="14.8" ry="17.8" transform="rotate(9.2 1941.1 654.6)"/>
<ellipse cx="1934.4" cy="637.6" rx="16.1" ry="16.9" transform="rotate(-8.6 1934.4 637.6)"/>
<ellipse cx="1926.1" cy="630.9" rx="17.5" ry="17.6" transform="rotate(7.4 1926.1 630.9)"/>
<ellipse cx="1918.2" cy="616.1" rx="19.6" ry="17.9" transform="rotate(-21 1918.2 616.1)"/>
<ellipse cx="1903.8" cy="613" rx="19.2" ry="22.3" transform="rotate(-5.9 1903.8 613)"/>
<ellipse cx="1893.9" cy="600.9" rx="17.9" ry="20.5" transform="rotate(-9 1893.9 600.9)"/>
<ellipse cx="1894.1" cy="594.5" rx="19.6" ry="21.9" transform="rotate(-15.1 1894.1 594.5)"/>
<ellipse cx="1893.3" cy="581.4" rx="17.2" ry="19.2" transform="rotate(-15.7 1893.3 581.4)"/>
<ellipse cx="1893.6" cy="576" rx="14.1" ry="20.4" transform="rotate(26.5 1893.6 576)"/>
<ellipse cx="1901.4" cy="560" rx="17.6" ry="20.1" transform="rotate(8.5 1901.4 560)"/>
<ellipse cx="1912.4" cy="548.5" rx="15.9" ry="18.4" transform="rotate(-27.1 1912.4 548.5)"/>
<ellipse cx="1918.6" cy="542" rx="18.3" ry="16.1" transform="rotate(20.7 1918.6 542)"/>
<ellipse cx="1920.3" cy="528.2" rx="18.5" ry="19.6" transform="rotate(-16.4 1920.3 528.2)"/>
<ellipse cx="1918" cy="515" rx="14.2" ry="18.7" transform="rotate(15 1918 515)"/>
<ellipse cx="1927" cy="504.4" rx="18.3" ry="18.1" transform="rotate(3.2 1927 504.4)"/>
</g>
<polygon points="1922.5,473.8 1954.6,461.1 1993.2,464.3 1999.8,480.1 2012.6,502.2 2044.8,514.9 2070.5,527.5 2077,559.1 2070.5,584.4 2057.7,609.6 2067.3,638.1 2064.1,669.7 2051.2,701.3 2025.5,717 1980.4,723.3 1957.8,717 1941.8,691.8 1938.6,669.7 1932.2,647.5 1909.6,622.3 1883.9,606.5 1877.4,584.4 1893.5,559.1 1906.4,533.8 1912.8,508.6" fill="#b080d4" fill-opacity="0.16" filter="url(#pblur)"/>
<polygon points="1926.4,479.4 1956.4,467.3 1992.5,470.3 1998.6,485.4 2010.6,506.4 2040.7,518.5 2064.7,530.5 2070.8,560.6 2064.7,584.7 2052.7,608.7 2061.7,635.8 2058.7,665.9 2046.7,696 2022.6,711 1980.5,717 1959.4,711 1944.4,687 1941.4,665.9 1935.4,644.8 1914.3,620.8 1890.3,605.7 1884.2,584.7 1899.3,560.6 1911.3,536.5 1917.3,512.5" fill="#9a5bc2" fill-opacity="0.93" filter="url(#pblur)"/>
<g fill="#c9a8e0" fill-opacity="0.10" stroke="#b58ad6" stroke-opacity="0.22" stroke-width="1.2">
<ellipse cx="2194" cy="638.8" rx="18" ry="27" transform="rotate(10 2194 638.8)"/>
<ellipse cx="2185" cy="672" rx="18" ry="27" transform="rotate(10 2185 672)"/>
<ellipse cx="2161" cy="705" rx="18" ry="27" transform="rotate(10 2161 705)"/>
<ellipse cx="2146" cy="732" rx="18" ry="27" transform="rotate(10 2146 732)"/>
<ellipse cx="2100.8" cy="711" rx="18" ry="27" transform="rotate(10 2100.8 711)"/>
<ellipse cx="2070.8" cy="732" rx="18" ry="27" transform="rotate(10 2070.8 732)"/>
<ellipse cx="2085.8" cy="756" rx="18" ry="27" transform="rotate(10 2085.8 756)"/>
<ellipse cx="2058.7" cy="765" rx="18" ry="27" transform="rotate(10 2058.7 765)"/>
<ellipse cx="2116" cy="741" rx="18" ry="27" transform="rotate(10 2116 741)"/>
<ellipse cx="2170" cy="726" rx="18" ry="27" transform="rotate(10 2170 726)"/>
<ellipse cx="2130" cy="700" rx="18" ry="27" transform="rotate(10 2130 700)"/>
<ellipse cx="2100" cy="740" rx="18" ry="27" transform="rotate(10 2100 740)"/>
</g>
<g fill="#b48ad6" fill-opacity="0.07" stroke="#a070cc" stroke-opacity="0.10" stroke-width="1">
<ellipse cx="1924.7" cy="1528.2" rx="17.1" ry="18.1" transform="rotate(8.5 1924.7 1528.2)"/>
<ellipse cx="1925.8" cy="1555.3" rx="19.3" ry="16.1" transform="rotate(-14.4 1925.8 1555.3)"/>
<ellipse cx="1917" cy="1591.2" rx="19.7" ry="22" transform="rotate(-10.4 1917 1591.2)"/>
<ellipse cx="1922.1" cy="1612.6" rx="15.4" ry="23.3" transform="rotate(7.8 1922.1 1612.6)"/>
<ellipse cx="1920.6" cy="1640" rx="19.9" ry="19.8" transform="rotate(20.4 1920.6 1640)"/>
<ellipse cx="1925.7" cy="1656.4" rx="16.6" ry="21.8" transform="rotate(4.2 1925.7 1656.4)"/>
<ellipse cx="1927.6" cy="1666.1" rx="17.7" ry="16.6" transform="rotate(24.6 1927.6 1666.1)"/>
<ellipse cx="1934.2" cy="1684.4" rx="14.6" ry="23.4" transform="rotate(-9.3 1934.2 1684.4)"/>
<ellipse cx="1942.1" cy="1704.2" rx="14.2" ry="21.5" transform="rotate(8 1942.1 1704.2)"/>
<ellipse cx="1955.4" cy="1729.7" rx="14.4" ry="20.7" transform="rotate(-8.2 1955.4 1729.7)"/>
<ellipse cx="1965.3" cy="1750.2" rx="19.3" ry="16.5" transform="rotate(22.1 1965.3 1750.2)"/>
<ellipse cx="1979" cy="1761.1" rx="14.6" ry="17.6" transform="rotate(-23.3 1979 1761.1)"/>
<ellipse cx="1984.9" cy="1770.2" rx="18.9" ry="21.1" transform="rotate(19.5 1984.9 1770.2)"/>
<ellipse cx="2006.5" cy="1763.7" rx="14.6" ry="16.8" transform="rotate(15.4 2006.5 1763.7)"/>
<ellipse cx="2019.8" cy="1762" rx="16.5" ry="16.2" transform="rotate(-14.6 2019.8 1762)"/>
<ellipse cx="2028.3" cy="1752.3" rx="16.2" ry="18.6" transform="rotate(27.8 2028.3 1752.3)"/>
<ellipse cx="2038" cy="1740.5" rx="17.7" ry="16.2" transform="rotate(-5.2 2038 1740.5)"/>
<ellipse cx="2052.3" cy="1730" rx="16.1" ry="21.6" transform="rotate(2.3 2052.3 1730)"/>
<ellipse cx="2065.3" cy="1720.8" rx="14.5" ry="22.6" transform="rotate(-19.8 2065.3 1720.8)"/>
<ellipse cx="2073.5" cy="1703.6" rx="18.6" ry="23.8" transform="rotate(-29.7 2073.5 1703.6)"/>
<ellipse cx="2087.3" cy="1694.1" rx="18.8" ry="17.5" transform="rotate(-0.3 2087.3 1694.1)"/>
<ellipse cx="2093.2" cy="1683.9" rx="15.6" ry="23.6" transform="rotate(-13 2093.2 1683.9)"/>
<ellipse cx="2099.1" cy="1670" rx="17" ry="16.9" transform="rotate(8.2 2099.1 1670)"/>
<ellipse cx="2105.9" cy="1650.9" rx="18.2" ry="22.3" transform="rotate(7.7 2105.9 1650.9)"/>
<ellipse cx="2116" cy="1628" rx="16.4" ry="23.1" transform="rotate(-24.8 2116 1628)"/>
<ellipse cx="2123.2" cy="1615.1" rx="15.2" ry="18.1" transform="rotate(24.1 2123.2 1615.1)"/>
<ellipse cx="2123.1" cy="1608.1" rx="19.3" ry="17.9" transform="rotate(-2.3 2123.1 1608.1)"/>
<ellipse cx="2115.3" cy="1601.2" rx="18.5" ry="21.2" transform="rotate(-9.1 2115.3 1601.2)"/>
<ellipse cx="2105.7" cy="1586.5" rx="19.1" ry="21.3" transform="rotate(14.5 2105.7 1586.5)"/>
<ellipse cx="2087.7" cy="1583.8" rx="18.6" ry="20.6" transform="rotate(-22.4 2087.7 1583.8)"/>
<ellipse cx="2073.3" cy="1582.5" rx="15.4" ry="17.5" transform="rotate(-11.9 2073.3 1582.5)"/>
<ellipse cx="2062.4" cy="1572.2" rx="14.9" ry="17.2" transform="rotate(-15.1 2062.4 1572.2)"/>
<ellipse cx="2046.5" cy="1559.7" rx="15" ry="18.6" transform="rotate(-18.6 2046.5 1559.7)"/>
<ellipse cx="2041.8" cy="1551.5" rx="14.6" ry="23.7" transform="rotate(-23.9 2041.8 1551.5)"/>
<ellipse cx="2027.2" cy="1543.7" rx="18.8" ry="21.9" transform="rotate(-3.9 2027.2 1543.7)"/>
<ellipse cx="2022.7" cy="1529" rx="14.6" ry="17.7" transform="rotate(-6.7 2022.7 1529)"/>
<ellipse cx="2018.5" cy="1515.2" rx="18.7" ry="21.5" transform="rotate(0 2018.5 1515.2)"/>
<ellipse cx="2017.3" cy="1497.9" rx="14.9" ry="20.8" transform="rotate(-5.7 2017.3 1497.9)"/>
<ellipse cx="2012.2" cy="1483.6" rx="16.6" ry="20.6" transform="rotate(14.9 2012.2 1483.6)"/>
<ellipse cx="1993.8" cy="1476.2" rx="18.3" ry="23" transform="rotate(16.4 1993.8 1476.2)"/>
<ellipse cx="1980.2" cy="1479.2" rx="18.1" ry="21.1" transform="rotate(-2.8 1980.2 1479.2)"/>
<ellipse cx="1969.2" cy="1484.3" rx="14.6" ry="19.4" transform="rotate(16.9 1969.2 1484.3)"/>
<ellipse cx="1964.5" cy="1491.2" rx="15.5" ry="19.4" transform="rotate(-2.7 1964.5 1491.2)"/>
<ellipse cx="1956.8" cy="1501.4" rx="18.1" ry="23.4" transform="rotate(-19 1956.8 1501.4)"/>
<ellipse cx="1950.2" cy="1516.2" rx="16.3" ry="19.9" transform="rotate(28.5 1950.2 1516.2)"/>
<ellipse cx="1933.4" cy="1520.3" rx="15" ry="22.3" transform="rotate(26.4 1933.4 1520.3)"/>
</g>
<polygon points="1912.9,1515.1 1905.9,1585.9 1905.9,1641.1 1917.4,1674.3 1935.3,1718.5 1955.7,1762.8 1985.1,1785 2023.3,1780.4 2041.3,1751.7 2075,1729.6 2097.5,1703.1 2113.5,1674.3 2131.4,1630.1 2138.1,1608 2119.9,1585.9 2081.8,1575 2052.5,1552.7 2030,1530.6 2023.3,1504.1 2009.7,1464.3 1973.7,1459.9 1955.7,1475.2 1939.9,1501.9" fill="#b080d4" fill-opacity="0.16" filter="url(#pblur)"/>
<linearGradient id="gp2" gradientUnits="userSpaceOnUse" x1="0" y1="1465" x2="0" y2="1780">
<stop offset="0" stop-color="#9a5bc2" stop-opacity="0.72"/>
<stop offset="0.4" stop-color="#9a5bc2" stop-opacity="0.74"/>
<stop offset="0.7" stop-color="#9a5bc2" stop-opacity="0.62"/>
<stop offset="0.8" stop-color="#9a5bc2" stop-opacity="0.42"/>
<stop offset="1" stop-color="#9a5bc2" stop-opacity="0.25"/>
</linearGradient>
<polygon points="1919.5,1520 1913,1587.4 1913,1640 1923.7,1671.6 1940.5,1713.7 1959.5,1755.9 1987,1777 2022.7,1772.7 2039.5,1745.3 2071,1724.3 2092,1699 2107,1671.6 2123.7,1629.5 2130,1608.5 2113,1587.4 2077.4,1577 2050,1555.8 2029,1534.8 2022.7,1509.5 2010,1471.6 1976.3,1467.4 1959.5,1482 1944.8,1507.4" fill="url(#gp2)" filter="url(#pblur)"/>
<g fill="#c9a8e0" fill-opacity="0.10" stroke="#b58ad6" stroke-opacity="0.35" stroke-width="1.2">
<ellipse cx="1920" cy="1787" rx="31" ry="31"/>
<ellipse cx="1983" cy="1790" rx="29" ry="29"/>
<ellipse cx="1940" cy="1773" rx="15" ry="15"/>
<ellipse cx="1960" cy="1780" rx="25" ry="25"/>
</g>
<circle cx="1991" cy="1495" r="30" fill="#9a5bc2" fill-opacity="0.25" filter="url(#pblur)"/>
<polygon points="2050,2480 2080,2420 2140,2398 2210,2408 2262,2440 2278,2490 2262,2540 2222,2578 2180,2602 2130,2604 2108,2562 2098,2520" fill="#b58ad8" fill-opacity="0.22" filter="url(#pblur)"/>
<g fill="#b48ad6" fill-opacity="0.07" stroke="#a070cc" stroke-opacity="0.10" stroke-width="1">
<ellipse cx="2016.1" cy="2519.8" rx="17.4" ry="20.3" transform="rotate(13 2016.1 2519.8)"/>
<ellipse cx="2037.6" cy="2515.1" rx="19" ry="20.2" transform="rotate(-5.4 2037.6 2515.1)"/>
<ellipse cx="2062.5" cy="2502.5" rx="18.1" ry="19.1" transform="rotate(15.8 2062.5 2502.5)"/>
<ellipse cx="2078.5" cy="2517.8" rx="16.1" ry="16.5" transform="rotate(-13.5 2078.5 2517.8)"/>
<ellipse cx="2103.4" cy="2519.1" rx="16.5" ry="19.4" transform="rotate(11.9 2103.4 2519.1)"/>
<ellipse cx="2110.9" cy="2537" rx="15.3" ry="21.9" transform="rotate(26.4 2110.9 2537)"/>
<ellipse cx="2120.3" cy="2552.4" rx="18.8" ry="19.1" transform="rotate(-17.3 2120.3 2552.4)"/>
<ellipse cx="2114.8" cy="2579.5" rx="18.9" ry="21.1" transform="rotate(-1.9 2114.8 2579.5)"/>
<ellipse cx="2116" cy="2597.7" rx="19.8" ry="18.8" transform="rotate(8.3 2116 2597.7)"/>
<ellipse cx="2113.5" cy="2619.4" rx="16.8" ry="18.4" transform="rotate(2.9 2113.5 2619.4)"/>
<ellipse cx="2103.4" cy="2636.5" rx="16.1" ry="22.8" transform="rotate(-14 2103.4 2636.5)"/>
<ellipse cx="2105.4" cy="2648.8" rx="16.6" ry="17.5" transform="rotate(-29.8 2105.4 2648.8)"/>
<ellipse cx="2108.2" cy="2666" rx="15.5" ry="18.4" transform="rotate(-1.2 2108.2 2666)"/>
<ellipse cx="2110.4" cy="2680.2" rx="18" ry="18.9" transform="rotate(25.7 2110.4 2680.2)"/>
<ellipse cx="2118.4" cy="2686.9" rx="19" ry="23.2" transform="rotate(17 2118.4 2686.9)"/>
<ellipse cx="2123.9" cy="2704.4" rx="17.8" ry="16.1" transform="rotate(-29.3 2123.9 2704.4)"/>
<ellipse cx="2141.7" cy="2714.3" rx="15.5" ry="16.8" transform="rotate(-21.4 2141.7 2714.3)"/>
<ellipse cx="2138.3" cy="2726.6" rx="16.1" ry="17.2" transform="rotate(24.2 2138.3 2726.6)"/>
<ellipse cx="2145" cy="2733" rx="19.3" ry="20.9" transform="rotate(16.9 2145 2733)"/>
<ellipse cx="2130.5" cy="2745.6" rx="18.7" ry="22.7" transform="rotate(-18.2 2130.5 2745.6)"/>
<ellipse cx="2117.1" cy="2749.4" rx="18.5" ry="19.5" transform="rotate(23 2117.1 2749.4)"/>
<ellipse cx="2104.7" cy="2749.6" rx="15.4" ry="17.1" transform="rotate(-0.4 2104.7 2749.6)"/>
<ellipse cx="2089.4" cy="2753.5" rx="14.9" ry="19.9" transform="rotate(-0.1 2089.4 2753.5)"/>
<ellipse cx="2070.6" cy="2764.6" rx="14" ry="22.7" transform="rotate(-1.9 2070.6 2764.6)"/>
<ellipse cx="2048.2" cy="2770.9" rx="19" ry="19" transform="rotate(-4.9 2048.2 2770.9)"/>
<ellipse cx="2023.1" cy="2767.3" rx="17.8" ry="21.1" transform="rotate(-28.3 2023.1 2767.3)"/>
<ellipse cx="1992" cy="2773.3" rx="19.6" ry="18.6" transform="rotate(28.9 1992 2773.3)"/>
<ellipse cx="1968.6" cy="2767.2" rx="19.4" ry="16.3" transform="rotate(13.1 1968.6 2767.2)"/>
<ellipse cx="1946.9" cy="2761.5" rx="19.2" ry="18.9" transform="rotate(-1.5 1946.9 2761.5)"/>
<ellipse cx="1931.4" cy="2751.4" rx="15.3" ry="19.5" transform="rotate(-4.7 1931.4 2751.4)"/>
<ellipse cx="1916.9" cy="2738.3" rx="15.8" ry="22.6" transform="rotate(-5.8 1916.9 2738.3)"/>
<ellipse cx="1912" cy="2716.8" rx="17" ry="23.8" transform="rotate(9.3 1912 2716.8)"/>
<ellipse cx="1909.8" cy="2700.4" rx="15.9" ry="18.4" transform="rotate(5.2 1909.8 2700.4)"/>
<ellipse cx="1911.9" cy="2687" rx="14.2" ry="21.8" transform="rotate(23.1 1911.9 2687)"/>
<ellipse cx="1914.6" cy="2664.2" rx="15.8" ry="16" transform="rotate(-18.6 1914.6 2664.2)"/>
<ellipse cx="1930" cy="2651.7" rx="17.9" ry="22.3" transform="rotate(24.6 1930 2651.7)"/>
<ellipse cx="1940" cy="2634.8" rx="17.8" ry="21.6" transform="rotate(5.8 1940 2634.8)"/>
<ellipse cx="1947.3" cy="2620.2" rx="18" ry="19.7" transform="rotate(15.8 1947.3 2620.2)"/>
<ellipse cx="1949.4" cy="2608.6" rx="14.2" ry="22.2" transform="rotate(24.8 1949.4 2608.6)"/>
<ellipse cx="1961.8" cy="2598.9" rx="18.9" ry="22.3" transform="rotate(3.7 1961.8 2598.9)"/>
<ellipse cx="1966.5" cy="2587" rx="16.5" ry="18.5" transform="rotate(-4.2 1966.5 2587)"/>
<ellipse cx="1977.5" cy="2577.4" rx="14.3" ry="20.5" transform="rotate(-27.6 1977.5 2577.4)"/>
<ellipse cx="1981.2" cy="2561.7" rx="17.5" ry="23.3" transform="rotate(-3.2 1981.2 2561.7)"/>
<ellipse cx="1987.1" cy="2547" rx="17.6" ry="23.5" transform="rotate(28.8 1987.1 2547)"/>
<ellipse cx="1997.7" cy="2535.8" rx="14.6" ry="21.2" transform="rotate(-17.3 1997.7 2535.8)"/>
<ellipse cx="2004.1" cy="2525.9" rx="14" ry="21.5" transform="rotate(-22.7 2004.1 2525.9)"/>
</g>
<polygon points="2013.4,2508 2062.3,2487.7 2113.8,2508 2131.9,2543.3 2126.7,2593.8 2116.3,2631.8 2116.3,2669.7 2126.7,2695 2152.4,2720.3 2157.6,2745.5 2126.7,2760.6 2100.9,2765.7 2049.5,2783.4 1985.1,2785.9 1933.6,2775.8 1900.1,2745.5 1889.8,2707.6 1897.5,2669.7 1925.9,2631.8 1941.3,2606.4 1959.3,2581.2 1977.2,2548.4 1992.8,2523.1" fill="#b080d4" fill-opacity="0.16" filter="url(#pblur)"/>
<linearGradient id="gp3" gradientUnits="userSpaceOnUse" x1="0" y1="2495" x2="0" y2="2780">
<stop offset="0" stop-color="#9a5bc2" stop-opacity="0.55"/>
<stop offset="0.2" stop-color="#9a5bc2" stop-opacity="0.72"/>
<stop offset="0.5" stop-color="#9a5bc2" stop-opacity="0.74"/>
<stop offset="0.8" stop-color="#9a5bc2" stop-opacity="0.62"/>
<stop offset="1" stop-color="#9a5bc2" stop-opacity="0.4"/>
</linearGradient>
<polygon points="2014.8,2514.8 2060.5,2495.5 2108.6,2514.8 2125.5,2548.5 2120.7,2596.6 2111,2632.7 2111,2668.8 2120.7,2692.9 2144.7,2717 2149.6,2741 2120.7,2755.4 2096.6,2760.3 2048.5,2777.1 1988.3,2779.5 1940.2,2769.9 1908.9,2741 1899.3,2704.9 1906.5,2668.8 1933,2632.7 1947.4,2608.6 1964.2,2584.6 1981,2553.3 1995.5,2529.2" fill="url(#gp3)" filter="url(#pblur)"/>
<g fill="#c9a8e0" fill-opacity="0.10" stroke="#b58ad6" stroke-opacity="0.18" stroke-width="1.2">
<ellipse cx="2090" cy="2430" rx="34" ry="34"/>
<ellipse cx="2130" cy="2420" rx="34" ry="34"/>
<ellipse cx="2170" cy="2440" rx="34" ry="34"/>
<ellipse cx="2205" cy="2460" rx="34" ry="34"/>
<ellipse cx="2110" cy="2470" rx="34" ry="34"/>
<ellipse cx="2150" cy="2480" rx="34" ry="34"/>
<ellipse cx="2195" cy="2500" rx="34" ry="34"/>
<ellipse cx="2140" cy="2520" rx="34" ry="34"/>
<ellipse cx="2180" cy="2540" rx="34" ry="34"/>
<ellipse cx="2150" cy="2570" rx="34" ry="34"/>
<ellipse cx="2140" cy="2595" rx="30" ry="30"/>
<ellipse cx="2120" cy="2455" rx="34" ry="34"/>
<ellipse cx="2070" cy="2465" rx="30" ry="30"/>
<ellipse cx="2215" cy="2520" rx="30" ry="30"/>
</g>
<g filter="url(#soft)">
<text x="1943.6" y="425" font-size="10.6" textLength="27.9" lengthAdjust="spacingAndGlyphs" style="font-family:'Liberation Serif', 'Times New Roman', serif;" fill="#666">L510</text>
<text x="2005.9" y="450.8" font-size="59.1" textLength="122.1" lengthAdjust="spacingAndGlyphs" style="font-family:'Liberation Serif', 'Times New Roman', serif;" fill="#3a3a3a">L507</text>
<text x="2016" y="479.4" font-size="23.3" textLength="60.1" lengthAdjust="spacingAndGlyphs" style="font-family:'Liberation Serif', 'Times New Roman', serif;" fill="#666">S506</text>
<text x="1818.5" y="557.6" font-size="29.6" textLength="57.1" lengthAdjust="spacingAndGlyphs" style="font-family:'Liberation Serif', 'Times New Roman', serif;" fill="#3a3a3a">I321</text>
<text x="2055.3" y="575.6" font-size="45.5" textLength="98.5" lengthAdjust="spacingAndGlyphs" style="font-family:'Liberation Serif', 'Times New Roman', serif;" fill="#3a3a3a">A503</text>
<text x="2196.8" y="533" font-size="16.6" textLength="24.7" lengthAdjust="spacingAndGlyphs" style="font-family:'Liberation Serif', 'Times New Roman', serif;" fill="#666">V95</text>
<text x="1892.5" y="606" font-size="15.1" textLength="34.2" lengthAdjust="spacingAndGlyphs" style="font-family:'Liberation Serif', 'Times New Roman', serif;" fill="#666">M88</text>
<text x="2043.5" y="615" font-size="19.6" textLength="34.4" lengthAdjust="spacingAndGlyphs" style="font-family:'Liberation Serif', 'Times New Roman', serif;" fill="#666">V92</text>
<text x="2101.5" y="611.7" font-size="23.7" textLength="48.4" lengthAdjust="spacingAndGlyphs" style="font-family:'Liberation Serif', 'Times New Roman', serif;" fill="#3a3a3a">R96</text>
<text x="1859.7" y="673.4" font-size="50" textLength="104.7" lengthAdjust="spacingAndGlyphs" style="font-family:'Liberation Serif', 'Times New Roman', serif;" fill="#3a3a3a">V325</text>
<text x="1827.6" y="711" font-size="31.7" textLength="69.9" lengthAdjust="spacingAndGlyphs" style="font-family:'Liberation Serif', 'Times New Roman', serif;" fill="#3a3a3a">L335</text>
<text x="2137.3" y="697.5" font-size="38.7" textLength="80.9" lengthAdjust="spacingAndGlyphs" style="font-family:'Liberation Serif', 'Times New Roman', serif;" fill="#3a3a3a">E500</text>
<text x="1966.8" y="791" font-size="15.1" textLength="33.7" lengthAdjust="spacingAndGlyphs" style="font-family:'Liberation Serif', 'Times New Roman', serif;" fill="#666">V330</text>
<text x="2170.8" y="804.3" font-size="29.2" textLength="39.6" lengthAdjust="spacingAndGlyphs" style="font-family:'Liberation Serif', 'Times New Roman', serif;" fill="#3a3a3a">P62</text>
<text x="2045.6" y="872" font-size="61.5" textLength="101.4" lengthAdjust="spacingAndGlyphs" style="font-family:'Liberation Serif', 'Times New Roman', serif;" fill="#3a3a3a">T65</text>
<text x="2040.7" y="1418" font-size="10.6" textLength="36.9" lengthAdjust="spacingAndGlyphs" style="font-family:'Liberation Serif', 'Times New Roman', serif;" fill="#666">G265</text>
<text x="2029.3" y="1442" font-size="7.6" textLength="19.7" lengthAdjust="spacingAndGlyphs" style="font-family:'Liberation Serif', 'Times New Roman', serif;" fill="#666">F459</text>
<text x="1849.4" y="1520" font-size="30.2" textLength="41" lengthAdjust="spacingAndGlyphs" style="font-family:'Liberation Serif', 'Times New Roman', serif;" fill="#666">HCN</text>
<text x="1797.1" y="1543.8" font-size="75.2" textLength="160.8" lengthAdjust="spacingAndGlyphs" style="font-family:'Liberation Serif', 'Times New Roman', serif;" fill="#3a3a3a">HCC</text>
<text x="2089" y="1536.7" font-size="10.1" textLength="43.6" lengthAdjust="spacingAndGlyphs" style="font-family:'Liberation Serif', 'Times New Roman', serif;" fill="#666">W372</text>
<text x="2056.5" y="1532" font-size="53.8" textLength="110.5" lengthAdjust="spacingAndGlyphs" style="font-family:'Liberation Serif', 'Times New Roman', serif;" fill="#3a3a3a">P350</text>
<text x="1988.8" y="1572.3" font-size="32.2" textLength="70.9" lengthAdjust="spacingAndGlyphs" style="font-family:'Liberation Serif', 'Times New Roman', serif;" fill="#5e4e6e">V352</text>
<text x="1843.9" y="1584.2" font-size="21.5" textLength="43.3" lengthAdjust="spacingAndGlyphs" style="font-family:'Liberation Serif', 'Times New Roman', serif;" fill="#3a3a3a">HCR</text>
<text x="2074.4" y="1603.2" font-size="25.2" textLength="55.9" lengthAdjust="spacingAndGlyphs" style="font-family:'Liberation Serif', 'Times New Roman', serif;" fill="#5e4e6e">Y373</text>
<text x="2063.7" y="1669.6" font-size="35.8" textLength="78.7" lengthAdjust="spacingAndGlyphs" style="font-family:'Liberation Serif', 'Times New Roman', serif;" fill="#4e4456">Q263</text>
<text x="1928.9" y="1676.7" font-size="35.8" textLength="73.2" lengthAdjust="spacingAndGlyphs" style="font-family:'Liberation Serif', 'Times New Roman', serif;" fill="#4e4456">E377</text>
<text x="1838.9" y="1702.8" font-size="28.7" textLength="61.3" lengthAdjust="spacingAndGlyphs" style="font-family:'Liberation Serif', 'Times New Roman', serif;" fill="#3a3a3a">HCO</text>
<text x="2070.4" y="1800.4" font-size="14.2" textLength="31.2" lengthAdjust="spacingAndGlyphs" style="font-family:'Liberation Serif', 'Times New Roman', serif;" fill="#666">D382</text>
<text x="1871.9" y="2523.3" font-size="100.6" textLength="253.9" lengthAdjust="spacingAndGlyphs" style="font-family:'Liberation Serif', 'Times New Roman', serif;" fill="#3a3a3a">W463</text>
<text x="2171.4" y="2472" font-size="7.6" textLength="24.6" lengthAdjust="spacingAndGlyphs" style="font-family:'Liberation Serif', 'Times New Roman', serif;" fill="#666">HCO</text>
<text x="1821.1" y="2573.2" font-size="28.7" textLength="52.5" lengthAdjust="spacingAndGlyphs" style="font-family:'Liberation Serif', 'Times New Roman', serif;" fill="#3a3a3a">I462</text>
<text x="2135.3" y="2585" font-size="25.1" textLength="49" lengthAdjust="spacingAndGlyphs" style="font-family:'Liberation Serif', 'Times New Roman', serif;" fill="#3a3a3a">P467</text>
<text x="1973.2" y="2658.8" font-size="36" textLength="95.4" lengthAdjust="spacingAndGlyphs" style="font-family:'Liberation Serif', 'Times New Roman', serif;" fill="#8d72a6">M120</text>
<text x="2213.8" y="2675.4" font-size="25.1" textLength="52" lengthAdjust="spacingAndGlyphs" style="font-family:'Liberation Serif', 'Times New Roman', serif;" fill="#3a3a3a">R381</text>
<text x="1817.4" y="2727.8" font-size="21.6" textLength="53.6" lengthAdjust="spacingAndGlyphs" style="font-family:'Liberation Serif', 'Times New Roman', serif;" fill="#3a3a3a">W461</text>
<text x="1955.5" y="2775.3" font-size="71.8" textLength="156.6" lengthAdjust="spacingAndGlyphs" style="font-family:'Liberation Serif', 'Times New Roman', serif;" fill="#3a3a3a">F476</text>
<text x="2082.9" y="2798" font-size="7.6" textLength="25.1" lengthAdjust="spacingAndGlyphs" style="font-family:'Liberation Serif', 'Times New Roman', serif;" fill="#666">S118</text>
<text x="2066.3" y="2861" font-size="21.8" textLength="53.8" lengthAdjust="spacingAndGlyphs" style="font-family:'Liberation Serif', 'Times New Roman', serif;" fill="#3a3a3a">H477</text>
</g>
<g stroke="#a8a8a8" stroke-width="2" stroke-linecap="round">
<line x1="161" y1="331" x2="169" y2="331"/>
<line x1="503" y1="500" x2="511" y2="500"/>
<line x1="518" y1="703" x2="526" y2="703"/>
<line x1="754" y1="293" x2="762" y2="293"/>
<line x1="754" y1="416" x2="762" y2="416"/>
<line x1="832" y1="1635" x2="840" y2="1635"/>
<line x1="826" y1="1707" x2="834" y2="1707"/>
<line x1="503" y1="1696" x2="511" y2="1696"/>
<line x1="789" y1="2381" x2="797" y2="2381"/>
<line x1="500" y1="2646" x2="508" y2="2646"/>
<line x1="714" y1="2779" x2="722" y2="2779"/>
<line x1="2142" y1="2400" x2="2150" y2="2400"/>
<line x1="1914" y1="2785" x2="1922" y2="2785"/>
<line x1="1930" y1="2863" x2="1938" y2="2863"/>
<line x1="1833" y1="2687" x2="1841" y2="2687"/>
<line x1="1926" y1="778" x2="1934" y2="778"/>
<line x1="1989" y1="838" x2="1997" y2="838"/>
<line x1="2133" y1="1761" x2="2141" y2="1761"/>
<line x1="2080" y1="1861" x2="2088" y2="1861"/>
<line x1="1905" y1="1880" x2="1913" y2="1880"/>
</g>
<g filter="url(#soft)">
<text x="373" y="117" font-size="64.7" textLength="525" lengthAdjust="spacingAndGlyphs" style="font-family:'Liberation Sans', Arial, sans-serif;font-weight:bold;font-style:italic;" fill="#000">Crystal Structures</text>
<text x="1082.9" y="77.6" font-size="62.7" textLength="464" lengthAdjust="spacingAndGlyphs" style="font-family:'Liberation Sans', Arial, sans-serif;font-weight:bold;font-style:italic;" fill="#000">Positive Control</text>
<text x="1187.9" y="147" font-size="60.9" textLength="237.1" lengthAdjust="spacingAndGlyphs" style="font-family:'Liberation Sans', Arial, sans-serif;font-weight:bold;font-style:italic;" fill="#000">Docking</text>
<text x="1796.7" y="69" font-size="60.4" textLength="422.5" lengthAdjust="spacingAndGlyphs" style="font-family:'Liberation Sans', Arial, sans-serif;font-weight:bold;font-style:italic;" fill="#000">Top Hits M. ur.</text>
<text x="1728.3" y="139" font-size="59.7" textLength="530.7" lengthAdjust="spacingAndGlyphs" style="font-family:'Liberation Sans', Arial, sans-serif;font-weight:bold;font-style:italic;" fill="#000">seeds EO Docking</text>
<text x="74.2" y="597.5" font-size="89.9" textLength="247.1" lengthAdjust="spacingAndGlyphs" style="font-family:'Liberation Sans', Arial, sans-serif;font-weight:bold;" fill="#000">COX-1</text>
<text x="45.8" y="1711.5" font-size="87.1" textLength="299.4" lengthAdjust="spacingAndGlyphs" style="font-family:'Liberation Sans', Arial, sans-serif;font-weight:bold;" fill="#000">iNOSas</text>
<text x="20.6" y="2729.5" font-size="87.1" textLength="299.3" lengthAdjust="spacingAndGlyphs" style="font-family:'Liberation Sans', Arial, sans-serif;font-weight:bold;" fill="#000">iNOScs</text>
</g>
</svg></body></html>
